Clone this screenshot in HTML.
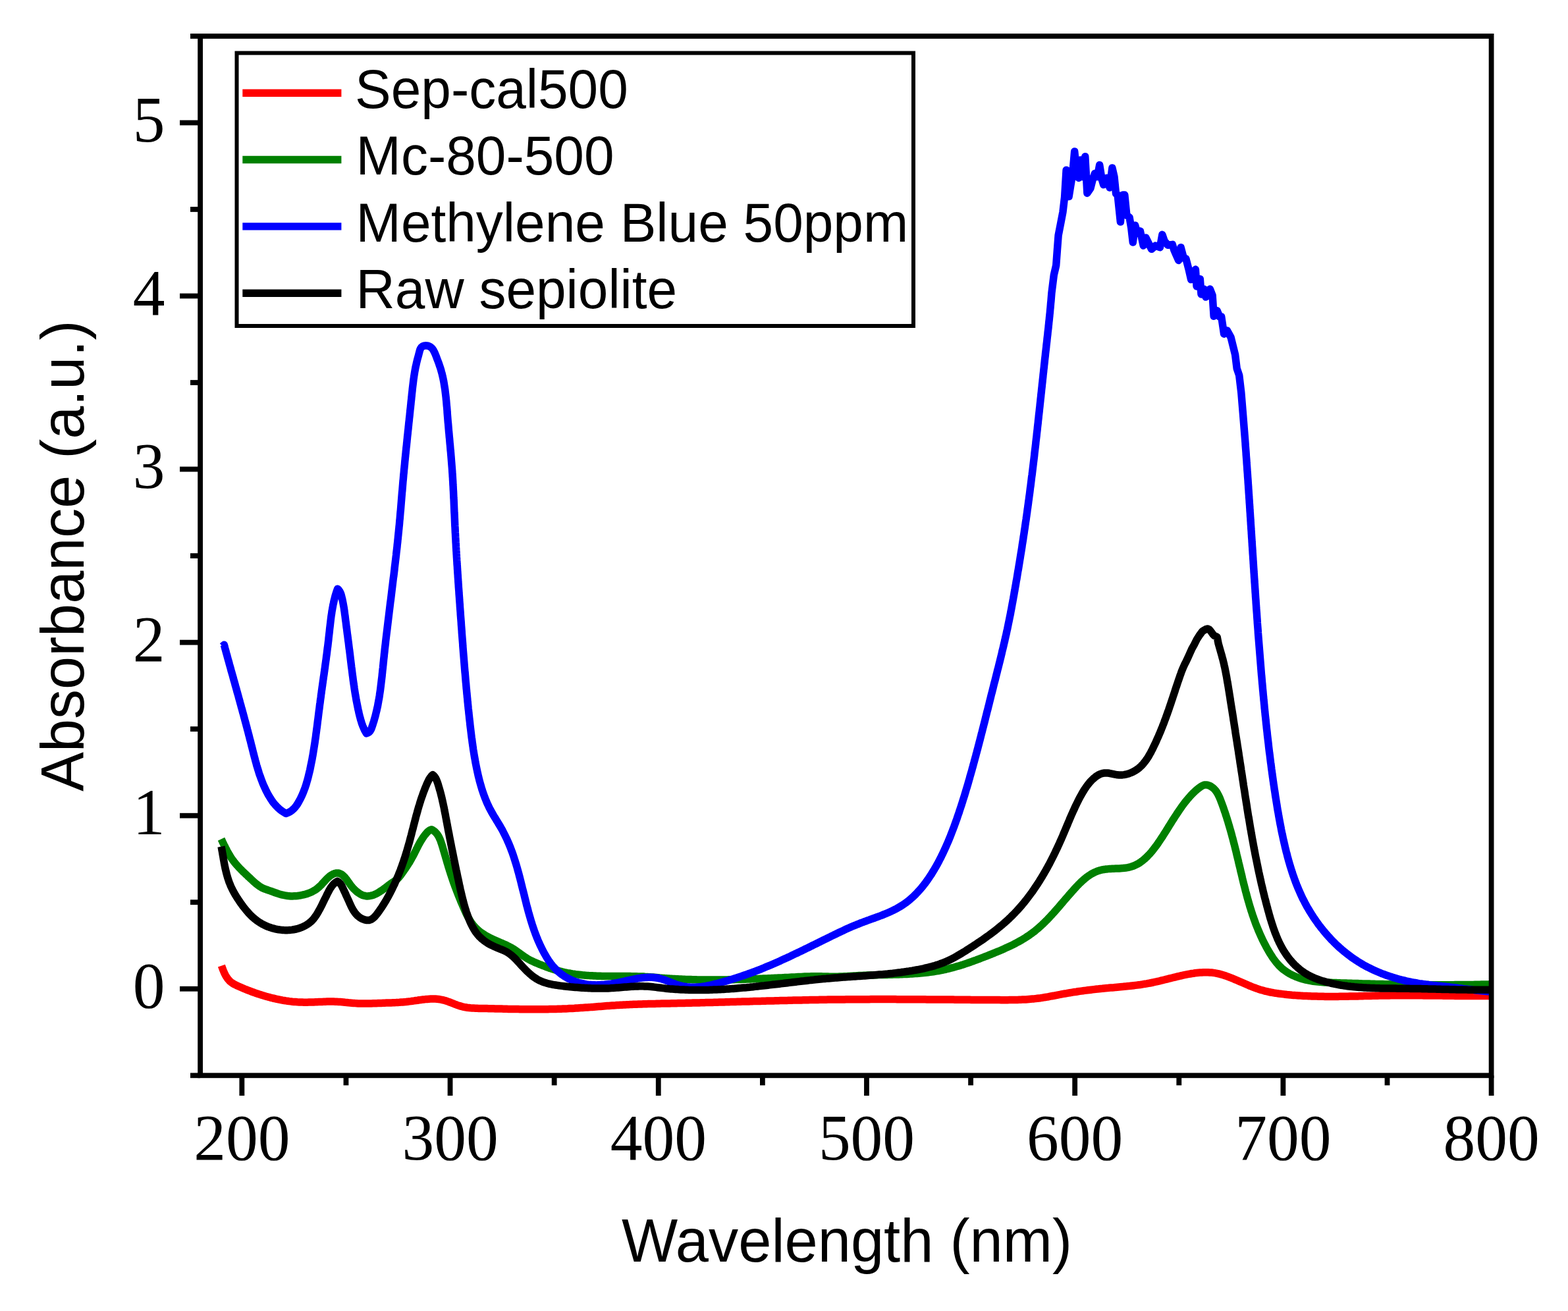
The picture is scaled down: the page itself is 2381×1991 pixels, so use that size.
<!DOCTYPE html>
<html lang="en"><head><meta charset="utf-8"><title>UV-Vis absorbance</title>
<style>
html,body{margin:0;padding:0;background:#fff;}
body{width:2381px;height:1991px;overflow:hidden;}
svg{display:block;}
.ser{font-family:"Liberation Serif",serif;font-size:97.5px;fill:#000;}
.san{font-family:"Liberation Sans",sans-serif;fill:#000;}
</style></head><body>
<svg width="2381" height="1991" viewBox="0 0 2381 1991">
<rect width="2381" height="1991" fill="#fff"/>

<g fill="none" stroke-width="11.5" stroke-linejoin="round" stroke-linecap="butt">
<path d="M336.4,1466.6 L337.2,1468.9 L338.0,1471.2 L338.9,1473.5 L339.9,1475.9 L341.0,1478.3 L342.1,1480.6 L343.4,1482.8 L344.8,1485.0 L346.3,1487.0 L347.9,1488.9 L349.6,1490.6 L351.5,1492.2 L353.6,1493.5 L355.7,1494.8 L358.0,1495.9 L360.2,1497.0 L362.5,1498.0 L364.8,1499.0 L367.1,1500.0 L369.4,1501.0 L371.7,1502.0 L374.0,1502.9 L376.3,1503.8 L378.7,1504.7 L381.0,1505.6 L383.4,1506.5 L385.7,1507.3 L388.1,1508.2 L390.5,1509.0 L392.8,1509.8 L395.2,1510.5 L397.6,1511.3 L400.0,1512.0 L402.4,1512.7 L404.8,1513.4 L407.2,1514.1 L409.7,1514.7 L412.1,1515.4 L414.5,1516.0 L417.0,1516.5 L419.4,1517.1 L421.8,1517.6 L424.3,1518.1 L426.8,1518.6 L429.2,1519.1 L431.7,1519.5 L434.1,1519.9 L436.6,1520.2 L439.1,1520.6 L441.6,1520.9 L444.0,1521.2 L446.5,1521.4 L449.0,1521.6 L451.5,1521.8 L454.0,1521.9 L456.5,1522.1 L459.0,1522.1 L461.5,1522.2 L464.0,1522.2 L466.5,1522.2 L469.0,1522.1 L471.5,1522.1 L474.0,1522.0 L476.5,1521.9 L479.1,1521.8 L481.6,1521.7 L484.1,1521.6 L486.6,1521.5 L489.1,1521.4 L491.6,1521.3 L494.1,1521.2 L496.6,1521.1 L499.1,1521.1 L501.6,1521.1 L504.1,1521.1 L506.6,1521.1 L509.1,1521.2 L511.6,1521.3 L514.1,1521.4 L516.6,1521.6 L519.1,1521.8 L521.6,1522.0 L524.0,1522.3 L526.5,1522.5 L529.0,1522.8 L531.5,1523.0 L534.0,1523.2 L536.5,1523.4 L538.9,1523.6 L541.4,1523.7 L543.9,1523.9 L546.4,1523.9 L548.9,1524.0 L551.5,1524.0 L554.0,1524.0 L556.5,1524.0 L559.0,1524.0 L561.5,1523.9 L564.0,1523.9 L566.5,1523.8 L569.0,1523.7 L571.5,1523.7 L574.1,1523.6 L576.6,1523.5 L579.1,1523.4 L581.6,1523.3 L584.1,1523.2 L586.6,1523.1 L589.1,1523.1 L591.5,1523.0 L594.0,1522.9 L596.5,1522.8 L599.0,1522.7 L601.5,1522.6 L604.0,1522.4 L606.5,1522.3 L609.0,1522.1 L611.4,1521.9 L613.9,1521.7 L616.4,1521.5 L618.9,1521.2 L621.4,1520.9 L623.9,1520.6 L626.4,1520.2 L628.9,1519.9 L631.4,1519.5 L633.9,1519.2 L636.4,1518.8 L638.9,1518.5 L641.4,1518.1 L643.9,1517.9 L646.3,1517.6 L648.8,1517.4 L651.3,1517.2 L653.8,1517.1 L656.2,1517.0 L658.7,1517.0 L661.2,1517.1 L663.6,1517.3 L666.1,1517.5 L668.5,1517.9 L670.9,1518.3 L673.3,1518.9 L675.7,1519.5 L678.1,1520.3 L680.5,1521.1 L682.9,1522.0 L685.3,1522.9 L687.7,1523.8 L690.0,1524.8 L692.4,1525.7 L694.8,1526.6 L697.2,1527.4 L699.7,1528.1 L702.1,1528.8 L704.5,1529.3 L707.0,1529.8 L709.5,1530.2 L711.9,1530.5 L714.4,1530.8 L716.9,1531.0 L719.4,1531.1 L721.9,1531.2 L724.4,1531.3 L726.9,1531.4 L729.4,1531.4 L731.9,1531.5 L734.4,1531.5 L736.9,1531.6 L739.4,1531.6 L741.9,1531.7 L744.4,1531.7 L746.9,1531.8 L749.4,1531.8 L751.9,1531.9 L754.4,1532.0 L756.9,1532.0 L759.4,1532.1 L761.9,1532.1 L764.4,1532.2 L766.9,1532.3 L769.5,1532.3 L772.0,1532.4 L774.5,1532.4 L777.0,1532.5 L779.5,1532.5 L782.0,1532.6 L784.5,1532.6 L787.0,1532.6 L789.5,1532.7 L792.0,1532.7 L794.5,1532.7 L797.0,1532.8 L799.5,1532.8 L802.0,1532.8 L804.5,1532.8 L807.0,1532.8 L809.5,1532.8 L812.0,1532.8 L814.5,1532.8 L817.0,1532.8 L819.5,1532.8 L822.0,1532.8 L824.5,1532.8 L827.0,1532.7 L829.5,1532.7 L832.0,1532.7 L834.5,1532.6 L837.0,1532.6 L839.5,1532.5 L842.0,1532.5 L844.5,1532.4 L847.1,1532.3 L849.6,1532.2 L852.1,1532.2 L854.6,1532.1 L857.1,1532.0 L859.6,1531.9 L862.1,1531.8 L864.6,1531.6 L867.1,1531.5 L869.6,1531.4 L872.1,1531.3 L874.6,1531.1 L877.1,1531.0 L879.6,1530.8 L882.1,1530.6 L884.5,1530.5 L887.0,1530.3 L889.5,1530.1 L892.0,1529.9 L894.5,1529.7 L897.0,1529.6 L899.5,1529.4 L902.0,1529.2 L904.5,1529.0 L907.0,1528.8 L909.5,1528.6 L912.0,1528.4 L914.5,1528.2 L917.0,1528.0 L919.5,1527.8 L922.0,1527.6 L924.5,1527.5 L927.0,1527.3 L929.5,1527.1 L932.0,1526.9 L934.5,1526.8 L937.0,1526.6 L939.5,1526.5 L941.9,1526.3 L944.4,1526.2 L946.9,1526.0 L949.4,1525.9 L951.9,1525.8 L954.4,1525.7 L956.9,1525.6 L959.4,1525.5 L961.9,1525.3 L964.4,1525.3 L966.9,1525.2 L969.4,1525.1 L971.9,1525.0 L974.4,1524.9 L976.9,1524.8 L979.4,1524.7 L981.9,1524.7 L984.4,1524.6 L986.9,1524.5 L989.4,1524.5 L991.9,1524.4 L994.5,1524.4 L997.0,1524.3 L999.5,1524.2 L1002.0,1524.2 L1004.5,1524.1 L1007.0,1524.1 L1009.5,1524.0 L1012.0,1524.0 L1014.5,1523.9 L1017.0,1523.9 L1019.5,1523.8 L1022.0,1523.8 L1024.5,1523.7 L1027.0,1523.7 L1029.5,1523.6 L1032.0,1523.6 L1034.5,1523.5 L1037.0,1523.5 L1039.5,1523.4 L1042.0,1523.3 L1044.5,1523.3 L1047.0,1523.2 L1049.5,1523.2 L1052.0,1523.1 L1054.5,1523.1 L1057.0,1523.0 L1059.5,1522.9 L1062.0,1522.9 L1064.5,1522.8 L1067.0,1522.7 L1069.5,1522.7 L1072.0,1522.6 L1074.5,1522.6 L1077.0,1522.5 L1079.5,1522.4 L1082.0,1522.4 L1084.5,1522.3 L1087.1,1522.2 L1089.6,1522.2 L1092.1,1522.1 L1094.6,1522.0 L1097.1,1522.0 L1099.6,1521.9 L1102.1,1521.8 L1104.6,1521.7 L1107.1,1521.7 L1109.6,1521.6 L1112.1,1521.5 L1114.6,1521.5 L1117.1,1521.4 L1119.6,1521.3 L1122.1,1521.3 L1124.6,1521.2 L1127.1,1521.1 L1129.6,1521.1 L1132.1,1521.0 L1134.6,1520.9 L1137.1,1520.9 L1139.6,1520.8 L1142.1,1520.7 L1144.6,1520.6 L1147.1,1520.6 L1149.6,1520.5 L1152.1,1520.4 L1154.6,1520.4 L1157.1,1520.3 L1159.6,1520.2 L1162.1,1520.2 L1164.6,1520.1 L1167.1,1520.0 L1169.6,1520.0 L1172.1,1519.9 L1174.6,1519.9 L1177.1,1519.8 L1179.7,1519.7 L1182.2,1519.7 L1184.7,1519.6 L1187.2,1519.5 L1189.7,1519.5 L1192.2,1519.4 L1194.7,1519.4 L1197.2,1519.3 L1199.7,1519.2 L1202.2,1519.2 L1204.7,1519.1 L1207.2,1519.1 L1209.7,1519.0 L1212.2,1519.0 L1214.7,1518.9 L1217.2,1518.9 L1219.7,1518.8 L1222.2,1518.8 L1224.7,1518.7 L1227.2,1518.7 L1229.7,1518.6 L1232.2,1518.6 L1234.7,1518.5 L1237.2,1518.5 L1239.7,1518.4 L1242.2,1518.4 L1244.7,1518.3 L1247.2,1518.3 L1249.7,1518.3 L1252.2,1518.2 L1254.7,1518.2 L1257.2,1518.1 L1259.7,1518.1 L1262.2,1518.1 L1264.7,1518.1 L1267.2,1518.0 L1269.7,1518.0 L1272.2,1518.0 L1274.7,1517.9 L1277.2,1517.9 L1279.8,1517.9 L1282.3,1517.9 L1284.8,1517.8 L1287.3,1517.8 L1289.8,1517.8 L1292.3,1517.8 L1294.8,1517.8 L1297.3,1517.8 L1299.8,1517.7 L1302.3,1517.7 L1304.8,1517.7 L1307.3,1517.7 L1309.8,1517.7 L1312.3,1517.7 L1314.8,1517.7 L1317.3,1517.7 L1319.8,1517.7 L1322.3,1517.6 L1324.8,1517.6 L1327.3,1517.6 L1329.8,1517.6 L1332.3,1517.6 L1334.8,1517.6 L1337.3,1517.6 L1339.8,1517.6 L1342.3,1517.6 L1344.8,1517.6 L1347.3,1517.6 L1349.8,1517.6 L1352.3,1517.6 L1354.8,1517.6 L1357.3,1517.6 L1359.8,1517.6 L1362.3,1517.7 L1364.8,1517.7 L1367.3,1517.7 L1369.8,1517.7 L1372.3,1517.7 L1374.9,1517.7 L1377.4,1517.7 L1379.9,1517.7 L1382.4,1517.7 L1384.9,1517.7 L1387.4,1517.8 L1389.9,1517.8 L1392.4,1517.8 L1394.9,1517.8 L1397.4,1517.8 L1399.9,1517.8 L1402.4,1517.8 L1404.9,1517.8 L1407.4,1517.9 L1409.9,1517.9 L1412.4,1517.9 L1414.9,1517.9 L1417.4,1517.9 L1419.9,1517.9 L1422.4,1518.0 L1424.9,1518.0 L1427.4,1518.0 L1429.9,1518.0 L1432.4,1518.0 L1434.9,1518.0 L1437.4,1518.1 L1439.9,1518.1 L1442.4,1518.1 L1444.9,1518.1 L1447.4,1518.1 L1449.9,1518.2 L1452.5,1518.2 L1455.0,1518.2 L1457.5,1518.2 L1460.0,1518.2 L1462.5,1518.3 L1465.0,1518.3 L1467.5,1518.3 L1470.0,1518.3 L1472.5,1518.3 L1475.0,1518.4 L1477.5,1518.4 L1480.0,1518.4 L1482.5,1518.4 L1485.0,1518.4 L1487.5,1518.4 L1490.0,1518.5 L1492.5,1518.5 L1495.0,1518.5 L1497.5,1518.5 L1500.0,1518.5 L1502.5,1518.6 L1505.0,1518.6 L1507.5,1518.6 L1510.0,1518.6 L1512.5,1518.6 L1515.1,1518.6 L1517.6,1518.6 L1520.1,1518.7 L1522.6,1518.7 L1525.1,1518.7 L1527.6,1518.7 L1530.1,1518.7 L1532.6,1518.6 L1535.1,1518.6 L1537.6,1518.6 L1540.1,1518.5 L1542.6,1518.5 L1545.1,1518.4 L1547.6,1518.3 L1550.1,1518.2 L1552.6,1518.1 L1555.1,1518.0 L1557.6,1517.9 L1560.1,1517.7 L1562.6,1517.5 L1565.0,1517.3 L1567.5,1517.1 L1570.0,1516.9 L1572.5,1516.6 L1575.0,1516.3 L1577.5,1516.0 L1580.0,1515.7 L1582.4,1515.3 L1584.9,1514.9 L1587.4,1514.5 L1589.9,1514.1 L1592.4,1513.7 L1594.8,1513.2 L1597.3,1512.7 L1599.8,1512.3 L1602.2,1511.8 L1604.7,1511.3 L1607.2,1510.8 L1609.6,1510.4 L1612.1,1509.9 L1614.6,1509.4 L1617.1,1509.0 L1619.5,1508.6 L1622.0,1508.1 L1624.5,1507.7 L1626.9,1507.3 L1629.4,1506.9 L1631.9,1506.5 L1634.3,1506.2 L1636.8,1505.8 L1639.3,1505.4 L1641.7,1505.1 L1644.2,1504.8 L1646.7,1504.4 L1649.2,1504.1 L1651.6,1503.8 L1654.1,1503.5 L1656.6,1503.2 L1659.1,1502.9 L1661.5,1502.6 L1664.0,1502.3 L1666.5,1502.1 L1669.0,1501.8 L1671.5,1501.5 L1674.0,1501.3 L1676.5,1501.0 L1679.0,1500.8 L1681.5,1500.6 L1683.9,1500.3 L1686.4,1500.1 L1688.9,1499.9 L1691.5,1499.7 L1694.0,1499.4 L1696.5,1499.2 L1699.0,1499.0 L1701.5,1498.8 L1704.0,1498.6 L1706.5,1498.3 L1709.0,1498.1 L1711.5,1497.8 L1714.0,1497.6 L1716.5,1497.3 L1719.0,1497.0 L1721.5,1496.7 L1724.0,1496.4 L1726.4,1496.1 L1728.9,1495.8 L1731.4,1495.5 L1733.9,1495.1 L1736.3,1494.7 L1738.8,1494.3 L1741.3,1493.9 L1743.7,1493.4 L1746.1,1493.0 L1748.6,1492.5 L1751.0,1492.0 L1753.4,1491.4 L1755.9,1490.9 L1758.3,1490.3 L1760.7,1489.8 L1763.1,1489.2 L1765.6,1488.6 L1768.0,1488.0 L1770.4,1487.4 L1772.8,1486.8 L1775.2,1486.2 L1777.7,1485.6 L1780.1,1485.0 L1782.5,1484.4 L1785.0,1483.8 L1787.4,1483.2 L1789.9,1482.6 L1792.4,1482.0 L1794.8,1481.5 L1797.3,1480.9 L1799.8,1480.4 L1802.3,1479.9 L1804.8,1479.4 L1807.2,1479.0 L1809.7,1478.5 L1812.2,1478.2 L1814.7,1477.8 L1817.2,1477.5 L1819.7,1477.2 L1822.2,1477.0 L1824.7,1476.9 L1827.2,1476.7 L1829.7,1476.7 L1832.1,1476.7 L1834.6,1476.7 L1837.1,1476.9 L1839.5,1477.1 L1842.0,1477.3 L1844.4,1477.7 L1846.8,1478.1 L1849.3,1478.6 L1851.7,1479.2 L1854.1,1479.8 L1856.5,1480.5 L1858.9,1481.2 L1861.3,1482.0 L1863.6,1482.9 L1866.0,1483.7 L1868.3,1484.7 L1870.7,1485.6 L1873.0,1486.6 L1875.4,1487.6 L1877.7,1488.6 L1880.0,1489.6 L1882.4,1490.6 L1884.7,1491.6 L1887.0,1492.6 L1889.3,1493.6 L1891.6,1494.6 L1893.9,1495.6 L1896.2,1496.6 L1898.6,1497.5 L1900.9,1498.5 L1903.2,1499.4 L1905.6,1500.2 L1907.9,1501.1 L1910.2,1501.9 L1912.6,1502.7 L1915.0,1503.4 L1917.4,1504.1 L1919.8,1504.8 L1922.2,1505.4 L1924.6,1505.9 L1927.0,1506.5 L1929.5,1507.0 L1931.9,1507.4 L1934.4,1507.9 L1936.9,1508.3 L1939.4,1508.6 L1941.8,1509.0 L1944.3,1509.3 L1946.8,1509.6 L1949.3,1509.9 L1951.8,1510.2 L1954.3,1510.5 L1956.8,1510.7 L1959.3,1510.9 L1961.8,1511.2 L1964.3,1511.4 L1966.8,1511.6 L1969.3,1511.7 L1971.8,1511.9 L1974.3,1512.1 L1976.8,1512.2 L1979.3,1512.4 L1981.8,1512.5 L1984.3,1512.6 L1986.8,1512.7 L1989.3,1512.8 L1991.8,1512.9 L1994.3,1513.0 L1996.8,1513.1 L1999.3,1513.1 L2001.8,1513.2 L2004.3,1513.3 L2006.8,1513.3 L2009.3,1513.3 L2011.8,1513.4 L2014.3,1513.4 L2016.8,1513.4 L2019.3,1513.4 L2021.8,1513.4 L2024.3,1513.4 L2026.8,1513.4 L2029.3,1513.4 L2031.8,1513.4 L2034.3,1513.3 L2036.8,1513.3 L2039.3,1513.3 L2041.8,1513.2 L2044.3,1513.2 L2046.8,1513.2 L2049.3,1513.1 L2051.8,1513.1 L2054.3,1513.0 L2056.8,1513.0 L2059.3,1512.9 L2061.8,1512.9 L2064.3,1512.8 L2066.8,1512.7 L2069.3,1512.7 L2071.8,1512.6 L2074.4,1512.6 L2076.9,1512.5 L2079.4,1512.4 L2081.9,1512.4 L2084.4,1512.3 L2086.9,1512.3 L2089.4,1512.2 L2091.9,1512.2 L2094.4,1512.1 L2096.9,1512.1 L2099.4,1512.0 L2101.9,1512.0 L2104.4,1511.9 L2106.9,1511.9 L2109.4,1511.9 L2111.9,1511.8 L2114.4,1511.8 L2116.9,1511.8 L2119.4,1511.8 L2121.9,1511.8 L2124.4,1511.7 L2126.9,1511.7 L2129.4,1511.7 L2131.9,1511.7 L2134.4,1511.7 L2136.9,1511.7 L2139.4,1511.7 L2142.0,1511.7 L2144.5,1511.7 L2147.0,1511.8 L2149.5,1511.8 L2152.0,1511.8 L2154.5,1511.8 L2157.0,1511.8 L2159.5,1511.8 L2162.0,1511.9 L2164.5,1511.9 L2167.0,1511.9 L2169.5,1511.9 L2172.0,1512.0 L2174.5,1512.0 L2177.0,1512.0 L2179.5,1512.0 L2182.0,1512.1 L2184.5,1512.1 L2187.0,1512.1 L2189.5,1512.1 L2192.0,1512.2 L2194.5,1512.2 L2197.0,1512.2 L2199.5,1512.3 L2202.0,1512.3 L2204.5,1512.3 L2207.0,1512.3 L2209.5,1512.4 L2212.0,1512.4 L2214.5,1512.4 L2217.0,1512.4 L2219.5,1512.4 L2222.0,1512.5 L2224.5,1512.5 L2227.0,1512.5 L2229.5,1512.5 L2232.0,1512.5 L2234.6,1512.5 L2237.1,1512.5 L2239.6,1512.5 L2242.1,1512.5 L2244.6,1512.5 L2247.1,1512.5 L2249.6,1512.5 L2252.1,1512.5 L2254.6,1512.5 L2257.1,1512.5 L2259.6,1512.5 L2262.1,1512.4 L2264.6,1512.4" stroke="#ff0000"/>
<path d="M336.0,1274.3 L337.1,1276.6 L338.1,1278.8 L339.2,1281.1 L340.3,1283.4 L341.5,1285.6 L342.6,1287.9 L343.8,1290.1 L344.9,1292.4 L346.2,1294.6 L347.4,1296.8 L348.7,1298.9 L350.0,1301.1 L351.4,1303.2 L352.8,1305.2 L354.3,1307.3 L355.8,1309.3 L357.4,1311.2 L359.0,1313.1 L360.7,1315.0 L362.4,1316.9 L364.1,1318.7 L365.9,1320.5 L367.6,1322.3 L369.4,1324.1 L371.3,1325.8 L373.1,1327.6 L375.0,1329.3 L376.8,1331.1 L378.7,1332.8 L380.5,1334.5 L382.4,1336.2 L384.2,1338.0 L386.1,1339.7 L388.0,1341.3 L389.9,1342.9 L391.9,1344.4 L393.9,1345.9 L396.0,1347.2 L398.2,1348.4 L400.5,1349.4 L402.9,1350.4 L405.3,1351.2 L407.7,1352.1 L410.1,1352.9 L412.5,1353.7 L414.9,1354.6 L417.3,1355.5 L419.6,1356.3 L422.0,1357.1 L424.4,1357.9 L426.8,1358.6 L429.2,1359.2 L431.7,1359.7 L434.1,1360.1 L436.6,1360.5 L439.1,1360.7 L441.6,1360.9 L444.2,1360.9 L446.7,1360.8 L449.3,1360.7 L451.8,1360.5 L454.3,1360.1 L456.8,1359.7 L459.3,1359.2 L461.8,1358.6 L464.2,1358.0 L466.6,1357.2 L468.9,1356.4 L471.2,1355.5 L473.5,1354.5 L475.7,1353.3 L477.8,1352.1 L479.9,1350.7 L481.9,1349.3 L483.8,1347.6 L485.7,1345.9 L487.6,1344.1 L489.3,1342.2 L491.1,1340.2 L492.9,1338.3 L494.6,1336.4 L496.4,1334.5 L498.3,1332.8 L500.2,1331.1 L502.1,1329.6 L504.2,1328.3 L506.4,1327.2 L508.6,1326.3 L511.0,1325.9 L513.3,1325.9 L515.6,1326.4 L517.8,1327.4 L519.9,1328.8 L521.8,1330.5 L523.7,1332.4 L525.4,1334.5 L527.0,1336.6 L528.6,1338.8 L530.0,1340.8 L531.4,1342.8 L532.8,1344.7 L534.2,1346.5 L535.8,1348.4 L537.5,1350.2 L539.5,1352.1 L541.5,1353.9 L543.7,1355.6 L545.9,1357.1 L548.2,1358.4 L550.5,1359.5 L552.9,1360.2 L555.3,1360.7 L557.6,1360.9 L560.0,1360.8 L562.3,1360.4 L564.6,1359.9 L567.0,1359.2 L569.3,1358.2 L571.6,1357.2 L573.8,1356.0 L576.0,1354.6 L578.2,1353.2 L580.4,1351.8 L582.5,1350.2 L584.6,1348.7 L586.7,1347.1 L588.7,1345.6 L590.6,1344.1 L592.6,1342.6 L594.5,1341.2 L596.6,1339.8 L598.6,1338.5 L600.7,1337.0 L602.7,1335.5 L604.5,1333.8 L606.2,1332.0 L607.8,1330.0 L609.3,1328.0 L610.8,1325.9 L612.2,1323.8 L613.7,1321.7 L615.1,1319.7 L616.5,1317.6 L617.9,1315.5 L619.3,1313.4 L620.6,1311.3 L622.0,1309.2 L623.2,1307.0 L624.5,1304.8 L625.7,1302.6 L626.9,1300.4 L628.1,1298.2 L629.3,1295.9 L630.4,1293.6 L631.6,1291.3 L632.7,1289.0 L633.9,1286.8 L635.0,1284.5 L636.2,1282.3 L637.4,1280.0 L638.7,1277.8 L640.0,1275.7 L641.3,1273.6 L642.7,1271.5 L644.1,1269.5 L645.7,1267.5 L647.3,1265.6 L648.9,1263.8 L650.7,1262.1 L652.7,1260.7 L655.1,1259.7 L657.4,1260.9 L659.4,1262.3 L661.2,1263.9 L662.8,1265.6 L664.3,1267.5 L665.6,1269.6 L666.8,1271.8 L667.8,1274.0 L668.8,1276.3 L669.6,1278.7 L670.5,1281.2 L671.2,1283.6 L672.0,1286.1 L672.7,1288.5 L673.4,1291.0 L674.2,1293.4 L674.9,1295.8 L675.6,1298.3 L676.3,1300.7 L677.0,1303.1 L677.7,1305.5 L678.4,1307.9 L679.1,1310.3 L679.8,1312.6 L680.5,1315.0 L681.2,1317.4 L682.0,1319.8 L682.7,1322.1 L683.5,1324.5 L684.2,1326.9 L685.0,1329.2 L685.8,1331.6 L686.6,1334.0 L687.4,1336.3 L688.2,1338.7 L689.0,1341.0 L689.9,1343.4 L690.7,1345.7 L691.6,1348.1 L692.5,1350.4 L693.4,1352.8 L694.3,1355.1 L695.2,1357.4 L696.1,1359.8 L697.1,1362.1 L698.0,1364.5 L699.0,1366.8 L699.9,1369.1 L700.9,1371.4 L701.9,1373.7 L702.9,1376.1 L703.9,1378.4 L704.9,1380.7 L705.9,1383.0 L707.0,1385.3 L708.0,1387.5 L709.1,1389.8 L710.3,1392.0 L711.5,1394.2 L712.7,1396.4 L714.0,1398.5 L715.3,1400.5 L716.8,1402.6 L718.2,1404.5 L719.8,1406.4 L721.5,1408.3 L723.2,1410.0 L725.0,1411.7 L726.9,1413.4 L728.9,1415.0 L730.9,1416.5 L733.0,1417.9 L735.1,1419.3 L737.3,1420.6 L739.5,1421.9 L741.8,1423.1 L744.1,1424.3 L746.3,1425.4 L748.6,1426.5 L750.9,1427.5 L753.2,1428.5 L755.5,1429.5 L757.8,1430.5 L760.1,1431.5 L762.4,1432.4 L764.6,1433.4 L766.9,1434.4 L769.1,1435.5 L771.3,1436.6 L773.5,1437.7 L775.7,1438.9 L777.9,1440.1 L780.0,1441.4 L782.1,1442.8 L784.1,1444.2 L786.2,1445.7 L788.3,1447.2 L790.3,1448.7 L792.4,1450.1 L794.4,1451.6 L796.5,1453.0 L798.6,1454.4 L800.7,1455.8 L802.9,1457.0 L805.1,1458.2 L807.3,1459.3 L809.6,1460.3 L811.8,1461.4 L814.1,1462.3 L816.4,1463.3 L818.7,1464.3 L821.1,1465.2 L823.4,1466.1 L825.7,1467.0 L828.1,1467.9 L830.4,1468.8 L832.8,1469.6 L835.2,1470.5 L837.6,1471.2 L840.0,1472.0 L842.3,1472.7 L844.8,1473.5 L847.2,1474.1 L849.6,1474.8 L852.0,1475.4 L854.4,1476.0 L856.9,1476.6 L859.3,1477.1 L861.8,1477.6 L864.2,1478.0 L866.7,1478.5 L869.2,1478.9 L871.6,1479.2 L874.1,1479.6 L876.6,1479.9 L879.1,1480.2 L881.6,1480.5 L884.1,1480.8 L886.6,1481.0 L889.0,1481.2 L891.5,1481.4 L894.0,1481.6 L896.5,1481.7 L899.1,1481.8 L901.6,1482.0 L904.1,1482.1 L906.6,1482.2 L909.1,1482.3 L911.6,1482.3 L914.1,1482.4 L916.6,1482.4 L919.1,1482.5 L921.6,1482.5 L924.1,1482.5 L926.6,1482.5 L929.1,1482.5 L931.7,1482.6 L934.2,1482.6 L936.7,1482.6 L939.2,1482.6 L941.7,1482.6 L944.2,1482.6 L946.7,1482.6 L949.2,1482.6 L951.7,1482.6 L954.2,1482.6 L956.7,1482.6 L959.2,1482.7 L961.7,1482.7 L964.2,1482.7 L966.7,1482.8 L969.2,1482.9 L971.7,1482.9 L974.2,1483.0 L976.7,1483.1 L979.2,1483.3 L981.7,1483.4 L984.2,1483.6 L986.7,1483.7 L989.2,1483.9 L991.7,1484.1 L994.2,1484.3 L996.7,1484.5 L999.2,1484.7 L1001.7,1485.0 L1004.2,1485.2 L1006.7,1485.4 L1009.2,1485.6 L1011.7,1485.7 L1014.2,1485.9 L1016.7,1486.1 L1019.2,1486.2 L1021.7,1486.4 L1024.2,1486.5 L1026.7,1486.7 L1029.2,1486.8 L1031.7,1486.9 L1034.2,1487.0 L1036.7,1487.2 L1039.2,1487.3 L1041.7,1487.4 L1044.2,1487.4 L1046.7,1487.5 L1049.2,1487.6 L1051.7,1487.7 L1054.2,1487.7 L1056.7,1487.8 L1059.2,1487.9 L1061.7,1487.9 L1064.2,1487.9 L1066.7,1488.0 L1069.2,1488.0 L1071.7,1488.0 L1074.2,1488.0 L1076.8,1488.1 L1079.3,1488.1 L1081.8,1488.1 L1084.3,1488.1 L1086.8,1488.1 L1089.3,1488.0 L1091.8,1488.0 L1094.3,1488.0 L1096.8,1488.0 L1099.3,1487.9 L1101.8,1487.9 L1104.3,1487.9 L1106.8,1487.8 L1109.3,1487.8 L1111.8,1487.7 L1114.3,1487.7 L1116.8,1487.6 L1119.3,1487.5 L1121.8,1487.5 L1124.4,1487.4 L1126.9,1487.3 L1129.4,1487.3 L1131.9,1487.2 L1134.4,1487.1 L1136.9,1487.0 L1139.4,1486.9 L1141.9,1486.8 L1144.4,1486.7 L1146.9,1486.6 L1149.4,1486.5 L1151.9,1486.4 L1154.4,1486.3 L1156.9,1486.2 L1159.4,1486.1 L1161.9,1486.0 L1164.4,1485.9 L1166.9,1485.8 L1169.4,1485.7 L1171.9,1485.6 L1174.4,1485.5 L1176.9,1485.3 L1179.4,1485.2 L1181.9,1485.1 L1184.4,1485.0 L1186.9,1484.9 L1189.4,1484.7 L1191.9,1484.6 L1194.4,1484.5 L1196.9,1484.4 L1199.4,1484.2 L1201.9,1484.1 L1204.4,1484.0 L1206.9,1483.9 L1209.4,1483.7 L1211.9,1483.6 L1214.4,1483.5 L1216.9,1483.4 L1219.4,1483.2 L1221.9,1483.1 L1224.4,1483.0 L1226.9,1482.9 L1229.4,1482.9 L1231.9,1482.8 L1234.4,1482.7 L1236.9,1482.7 L1239.4,1482.7 L1241.9,1482.7 L1244.5,1482.7 L1247.0,1482.8 L1249.5,1482.9 L1252.0,1483.0 L1254.5,1483.1 L1257.1,1483.1 L1259.6,1483.2 L1262.1,1483.3 L1264.6,1483.3 L1267.1,1483.3 L1269.6,1483.2 L1272.1,1483.2 L1274.6,1483.1 L1277.1,1483.0 L1279.6,1482.9 L1282.0,1482.8 L1284.5,1482.7 L1287.0,1482.6 L1289.5,1482.4 L1292.0,1482.3 L1294.4,1482.2 L1296.9,1482.0 L1299.4,1481.9 L1301.9,1481.7 L1304.4,1481.6 L1306.9,1481.5 L1309.4,1481.4 L1311.9,1481.3 L1314.4,1481.2 L1316.9,1481.1 L1319.4,1481.0 L1321.9,1480.9 L1324.4,1480.9 L1326.9,1480.8 L1329.4,1480.7 L1332.0,1480.7 L1334.5,1480.6 L1337.0,1480.6 L1339.5,1480.5 L1342.0,1480.5 L1344.5,1480.4 L1347.1,1480.4 L1349.6,1480.3 L1352.1,1480.2 L1354.6,1480.2 L1357.2,1480.1 L1359.7,1480.1 L1362.2,1480.0 L1364.7,1479.9 L1367.2,1479.8 L1369.7,1479.7 L1372.3,1479.6 L1374.8,1479.5 L1377.3,1479.4 L1379.8,1479.3 L1382.3,1479.1 L1384.8,1479.0 L1387.3,1478.8 L1389.8,1478.6 L1392.3,1478.4 L1394.8,1478.2 L1397.3,1478.0 L1399.8,1477.8 L1402.3,1477.5 L1404.8,1477.3 L1407.3,1477.0 L1409.7,1476.7 L1412.2,1476.4 L1414.7,1476.0 L1417.1,1475.7 L1419.6,1475.3 L1422.1,1474.9 L1424.5,1474.5 L1426.9,1474.0 L1429.4,1473.6 L1431.8,1473.1 L1434.3,1472.5 L1436.7,1472.0 L1439.1,1471.4 L1441.5,1470.8 L1443.9,1470.2 L1446.3,1469.6 L1448.7,1469.0 L1451.1,1468.3 L1453.5,1467.6 L1455.9,1466.9 L1458.3,1466.2 L1460.7,1465.4 L1463.1,1464.7 L1465.4,1463.9 L1467.8,1463.1 L1470.2,1462.3 L1472.5,1461.5 L1474.9,1460.6 L1477.3,1459.8 L1479.6,1458.9 L1482.0,1458.1 L1484.4,1457.2 L1486.7,1456.3 L1489.1,1455.4 L1491.4,1454.5 L1493.8,1453.6 L1496.1,1452.7 L1498.5,1451.8 L1500.8,1450.9 L1503.2,1449.9 L1505.6,1449.0 L1507.9,1448.0 L1510.3,1447.1 L1512.6,1446.1 L1514.9,1445.2 L1517.3,1444.2 L1519.6,1443.2 L1521.9,1442.2 L1524.2,1441.2 L1526.5,1440.1 L1528.8,1439.1 L1531.1,1438.0 L1533.4,1437.0 L1535.7,1435.9 L1537.9,1434.8 L1540.2,1433.6 L1542.4,1432.5 L1544.6,1431.3 L1546.8,1430.1 L1549.0,1428.9 L1551.1,1427.7 L1553.3,1426.4 L1555.4,1425.1 L1557.5,1423.8 L1559.6,1422.4 L1561.6,1421.1 L1563.7,1419.7 L1565.7,1418.2 L1567.7,1416.8 L1569.6,1415.3 L1571.6,1413.8 L1573.5,1412.2 L1575.4,1410.6 L1577.3,1409.0 L1579.1,1407.4 L1580.9,1405.7 L1582.8,1404.0 L1584.6,1402.3 L1586.3,1400.6 L1588.1,1398.8 L1589.9,1397.1 L1591.6,1395.3 L1593.3,1393.5 L1595.0,1391.6 L1596.7,1389.8 L1598.4,1387.9 L1600.1,1386.1 L1601.8,1384.2 L1603.4,1382.3 L1605.1,1380.4 L1606.8,1378.5 L1608.4,1376.6 L1610.1,1374.7 L1611.7,1372.7 L1613.4,1370.8 L1615.0,1368.9 L1616.7,1366.9 L1618.3,1365.0 L1620.0,1363.1 L1621.7,1361.1 L1623.3,1359.2 L1625.0,1357.3 L1626.7,1355.4 L1628.4,1353.5 L1630.1,1351.6 L1631.8,1349.7 L1633.5,1347.8 L1635.3,1345.9 L1637.0,1344.1 L1638.8,1342.3 L1640.6,1340.5 L1642.4,1338.8 L1644.2,1337.1 L1646.1,1335.5 L1648.0,1333.9 L1649.9,1332.3 L1651.9,1330.9 L1653.9,1329.5 L1655.9,1328.2 L1658.0,1326.9 L1660.1,1325.8 L1662.3,1324.7 L1664.5,1323.8 L1666.7,1322.9 L1669.0,1322.1 L1671.3,1321.5 L1673.7,1320.9 L1676.2,1320.5 L1678.7,1320.1 L1681.2,1319.9 L1683.7,1319.6 L1686.3,1319.5 L1688.9,1319.3 L1691.5,1319.2 L1694.1,1319.1 L1696.7,1319.0 L1699.3,1318.9 L1701.9,1318.7 L1704.4,1318.6 L1707.0,1318.3 L1709.5,1318.0 L1712.0,1317.6 L1714.4,1317.1 L1716.8,1316.5 L1719.1,1315.8 L1721.4,1315.0 L1723.7,1314.0 L1725.8,1312.9 L1728.0,1311.8 L1730.1,1310.5 L1732.1,1309.2 L1734.1,1307.7 L1736.0,1306.2 L1737.9,1304.6 L1739.8,1302.9 L1741.6,1301.2 L1743.4,1299.3 L1745.2,1297.5 L1746.9,1295.6 L1748.6,1293.6 L1750.2,1291.6 L1751.8,1289.6 L1753.4,1287.5 L1754.9,1285.5 L1756.5,1283.4 L1758.0,1281.3 L1759.4,1279.1 L1760.9,1277.0 L1762.3,1274.9 L1763.7,1272.8 L1765.1,1270.7 L1766.5,1268.5 L1767.8,1266.4 L1769.2,1264.3 L1770.5,1262.2 L1771.8,1260.1 L1773.1,1258.0 L1774.4,1255.9 L1775.7,1253.8 L1777.0,1251.7 L1778.3,1249.6 L1779.6,1247.5 L1780.9,1245.4 L1782.3,1243.4 L1783.6,1241.3 L1784.9,1239.2 L1786.3,1237.2 L1787.6,1235.1 L1789.0,1233.1 L1790.4,1231.0 L1791.8,1229.0 L1793.2,1227.0 L1794.6,1224.9 L1796.1,1222.9 L1797.6,1220.9 L1799.1,1218.9 L1800.7,1216.9 L1802.3,1215.0 L1803.9,1213.0 L1805.6,1211.1 L1807.3,1209.1 L1809.0,1207.3 L1810.8,1205.4 L1812.6,1203.6 L1814.5,1201.8 L1816.4,1200.1 L1818.4,1198.4 L1820.4,1196.8 L1822.4,1195.3 L1824.6,1193.9 L1826.8,1192.8 L1829.0,1192.1 L1831.4,1191.9 L1833.7,1192.2 L1836.0,1192.9 L1838.2,1194.0 L1840.3,1195.3 L1842.3,1196.8 L1844.0,1198.5 L1845.6,1200.3 L1847.1,1202.3 L1848.4,1204.4 L1849.6,1206.5 L1850.7,1208.8 L1851.8,1211.1 L1852.8,1213.4 L1853.7,1215.8 L1854.6,1218.2 L1855.5,1220.6 L1856.4,1223.0 L1857.3,1225.4 L1858.1,1227.8 L1858.9,1230.2 L1859.7,1232.6 L1860.6,1235.0 L1861.3,1237.4 L1862.1,1239.8 L1862.9,1242.2 L1863.6,1244.6 L1864.4,1247.0 L1865.1,1249.4 L1865.8,1251.8 L1866.5,1254.2 L1867.2,1256.6 L1867.9,1259.0 L1868.6,1261.4 L1869.3,1263.8 L1869.9,1266.2 L1870.6,1268.6 L1871.2,1271.0 L1871.9,1273.4 L1872.5,1275.8 L1873.1,1278.2 L1873.7,1280.6 L1874.4,1283.0 L1875.0,1285.5 L1875.6,1287.9 L1876.2,1290.3 L1876.8,1292.7 L1877.4,1295.1 L1877.9,1297.5 L1878.5,1300.0 L1879.1,1302.4 L1879.7,1304.8 L1880.3,1307.2 L1880.8,1309.7 L1881.4,1312.1 L1882.0,1314.5 L1882.6,1317.0 L1883.2,1319.4 L1883.7,1321.8 L1884.3,1324.3 L1884.9,1326.7 L1885.5,1329.2 L1886.1,1331.6 L1886.6,1334.0 L1887.2,1336.5 L1887.8,1338.9 L1888.4,1341.4 L1889.0,1343.8 L1889.7,1346.3 L1890.3,1348.7 L1890.9,1351.1 L1891.5,1353.6 L1892.2,1356.0 L1892.8,1358.4 L1893.5,1360.9 L1894.1,1363.3 L1894.8,1365.7 L1895.5,1368.1 L1896.2,1370.5 L1896.9,1373.0 L1897.6,1375.4 L1898.3,1377.8 L1899.1,1380.2 L1899.8,1382.6 L1900.6,1385.0 L1901.4,1387.3 L1902.1,1389.7 L1903.0,1392.1 L1903.8,1394.5 L1904.6,1396.8 L1905.5,1399.2 L1906.3,1401.5 L1907.2,1403.9 L1908.1,1406.2 L1909.0,1408.5 L1910.0,1410.8 L1910.9,1413.1 L1911.9,1415.4 L1912.9,1417.7 L1913.9,1420.0 L1914.9,1422.3 L1916.0,1424.6 L1917.0,1426.8 L1918.1,1429.1 L1919.2,1431.3 L1920.4,1433.5 L1921.6,1435.7 L1922.7,1437.9 L1923.9,1440.1 L1925.2,1442.3 L1926.4,1444.5 L1927.7,1446.6 L1929.0,1448.8 L1930.4,1450.9 L1931.7,1453.0 L1933.1,1455.1 L1934.6,1457.1 L1936.1,1459.1 L1937.6,1461.1 L1939.2,1463.0 L1940.9,1464.9 L1942.6,1466.8 L1944.4,1468.5 L1946.2,1470.2 L1948.1,1471.9 L1950.1,1473.4 L1952.2,1474.9 L1954.3,1476.4 L1956.4,1477.7 L1958.6,1479.0 L1960.9,1480.2 L1963.1,1481.3 L1965.4,1482.3 L1967.7,1483.3 L1970.1,1484.2 L1972.4,1485.1 L1974.8,1485.9 L1977.1,1486.6 L1979.5,1487.2 L1981.9,1487.8 L1984.3,1488.4 L1986.7,1488.9 L1989.2,1489.4 L1991.6,1489.8 L1994.1,1490.2 L1996.5,1490.5 L1999.0,1490.8 L2001.5,1491.1 L2004.0,1491.3 L2006.5,1491.5 L2009.0,1491.7 L2011.5,1491.9 L2014.0,1492.0 L2016.5,1492.1 L2019.0,1492.2 L2021.5,1492.3 L2024.0,1492.4 L2026.6,1492.5 L2029.1,1492.6 L2031.6,1492.7 L2034.1,1492.8 L2036.6,1492.9 L2039.2,1492.9 L2041.7,1493.0 L2044.2,1493.1 L2046.7,1493.2 L2049.2,1493.3 L2051.7,1493.3 L2054.2,1493.4 L2056.8,1493.5 L2059.3,1493.6 L2061.8,1493.6 L2064.3,1493.7 L2066.8,1493.8 L2069.3,1493.9 L2071.8,1493.9 L2074.3,1494.0 L2076.8,1494.1 L2079.3,1494.1 L2081.8,1494.2 L2084.4,1494.3 L2086.9,1494.3 L2089.4,1494.4 L2091.9,1494.4 L2094.4,1494.5 L2096.9,1494.6 L2099.4,1494.6 L2101.9,1494.7 L2104.4,1494.7 L2106.9,1494.8 L2109.4,1494.8 L2111.9,1494.9 L2114.4,1494.9 L2116.9,1495.0 L2119.4,1495.0 L2121.9,1495.1 L2124.4,1495.1 L2126.9,1495.2 L2129.4,1495.2 L2131.9,1495.2 L2134.4,1495.3 L2136.9,1495.3 L2139.4,1495.3 L2141.9,1495.4 L2144.4,1495.4 L2146.9,1495.4 L2149.4,1495.5 L2151.9,1495.5 L2154.4,1495.5 L2156.9,1495.5 L2159.4,1495.6 L2161.9,1495.6 L2164.4,1495.6 L2166.9,1495.6 L2169.4,1495.6 L2171.9,1495.7 L2174.4,1495.7 L2176.9,1495.7 L2179.4,1495.7 L2181.9,1495.7 L2184.4,1495.7 L2186.9,1495.7 L2189.4,1495.7 L2191.9,1495.7 L2194.4,1495.7 L2196.9,1495.7 L2199.4,1495.7 L2201.9,1495.7 L2204.4,1495.7 L2206.9,1495.7 L2209.4,1495.6 L2211.9,1495.6 L2214.4,1495.6 L2217.0,1495.6 L2219.5,1495.6 L2222.0,1495.5 L2224.5,1495.5 L2227.0,1495.5 L2229.5,1495.5 L2232.0,1495.4 L2234.5,1495.4 L2237.0,1495.4 L2239.5,1495.3 L2242.0,1495.3 L2244.5,1495.2 L2247.0,1495.2 L2249.5,1495.1 L2252.0,1495.1 L2254.6,1495.0 L2257.1,1495.0 L2259.6,1494.9 L2262.1,1494.9 L2264.6,1494.8" stroke="#008000"/>
<path d="M337.6,981.6 L340.3,979.3 L341.0,981.7 L341.6,984.2 L342.3,986.6 L343.0,989.1 L343.6,991.5 L344.3,993.9 L345.0,996.4 L345.6,998.8 L346.3,1001.3 L347.0,1003.7 L347.7,1006.1 L348.3,1008.5 L349.0,1011.0 L349.7,1013.4 L350.4,1015.8 L351.0,1018.3 L351.7,1020.7 L352.4,1023.1 L353.1,1025.5 L353.8,1028.0 L354.4,1030.4 L355.1,1032.8 L355.8,1035.2 L356.5,1037.7 L357.1,1040.1 L357.8,1042.5 L358.5,1044.9 L359.2,1047.4 L359.8,1049.8 L360.5,1052.2 L361.2,1054.6 L361.9,1057.0 L362.5,1059.5 L363.2,1061.9 L363.9,1064.3 L364.5,1066.7 L365.2,1069.2 L365.9,1071.6 L366.5,1074.0 L367.2,1076.4 L367.9,1078.9 L368.5,1081.3 L369.2,1083.7 L369.9,1086.2 L370.5,1088.6 L371.2,1091.0 L371.8,1093.5 L372.5,1095.9 L373.1,1098.3 L373.8,1100.8 L374.4,1103.2 L375.1,1105.6 L375.7,1108.1 L376.4,1110.5 L377.0,1113.0 L377.6,1115.4 L378.3,1117.9 L378.9,1120.3 L379.5,1122.8 L380.2,1125.2 L380.8,1127.7 L381.4,1130.1 L382.0,1132.6 L382.7,1135.1 L383.3,1137.5 L383.9,1140.0 L384.5,1142.4 L385.1,1144.9 L385.8,1147.4 L386.4,1149.8 L387.1,1152.3 L387.7,1154.7 L388.4,1157.2 L389.1,1159.6 L389.7,1162.1 L390.4,1164.5 L391.2,1166.9 L391.9,1169.3 L392.7,1171.8 L393.4,1174.2 L394.2,1176.6 L395.1,1178.9 L395.9,1181.3 L396.8,1183.7 L397.7,1186.0 L398.6,1188.4 L399.5,1190.7 L400.5,1193.0 L401.5,1195.3 L402.6,1197.6 L403.7,1199.9 L404.8,1202.1 L405.9,1204.3 L407.1,1206.6 L408.4,1208.7 L409.7,1210.9 L411.0,1213.0 L412.4,1215.1 L413.8,1217.2 L415.3,1219.2 L416.9,1221.1 L418.5,1223.0 L420.2,1224.8 L422.0,1226.6 L423.8,1228.2 L425.7,1229.9 L427.7,1231.4 L429.8,1232.8 L432.0,1234.2 L434.2,1235.4 L436.7,1234.6 L438.9,1233.6 L441.1,1232.3 L443.1,1230.9 L444.9,1229.3 L446.7,1227.6 L448.3,1225.7 L449.8,1223.8 L451.3,1221.7 L452.6,1219.5 L453.9,1217.3 L455.1,1215.1 L456.3,1212.8 L457.4,1210.5 L458.5,1208.2 L459.5,1205.9 L460.5,1203.5 L461.4,1201.2 L462.3,1198.8 L463.2,1196.4 L464.0,1194.0 L464.8,1191.6 L465.5,1189.2 L466.2,1186.7 L466.9,1184.3 L467.6,1181.8 L468.2,1179.4 L468.8,1176.9 L469.4,1174.4 L470.0,1172.0 L470.6,1169.5 L471.1,1167.0 L471.6,1164.5 L472.1,1162.0 L472.6,1159.6 L473.1,1157.1 L473.6,1154.6 L474.1,1152.1 L474.5,1149.6 L475.0,1147.1 L475.4,1144.6 L475.8,1142.1 L476.2,1139.6 L476.6,1137.1 L477.0,1134.6 L477.4,1132.1 L477.8,1129.6 L478.2,1127.1 L478.5,1124.6 L478.9,1122.1 L479.3,1119.6 L479.6,1117.1 L479.9,1114.5 L480.3,1112.0 L480.6,1109.5 L480.9,1107.0 L481.3,1104.5 L481.6,1102.0 L481.9,1099.5 L482.2,1097.0 L482.5,1094.4 L482.9,1091.9 L483.2,1089.4 L483.5,1086.9 L483.8,1084.4 L484.1,1081.9 L484.4,1079.4 L484.8,1076.9 L485.1,1074.3 L485.4,1071.8 L485.7,1069.3 L486.1,1066.8 L486.4,1064.3 L486.7,1061.8 L487.1,1059.3 L487.4,1056.8 L487.7,1054.3 L488.1,1051.8 L488.4,1049.2 L488.8,1046.7 L489.1,1044.2 L489.5,1041.7 L489.8,1039.2 L490.2,1036.7 L490.5,1034.2 L490.9,1031.7 L491.2,1029.2 L491.6,1026.7 L492.0,1024.2 L492.3,1021.7 L492.7,1019.1 L493.0,1016.6 L493.4,1014.1 L493.7,1011.6 L494.0,1009.1 L494.4,1006.6 L494.7,1004.1 L495.1,1001.6 L495.4,999.1 L495.7,996.5 L496.1,994.0 L496.4,991.5 L496.7,989.0 L497.0,986.5 L497.3,984.0 L497.7,981.5 L498.0,978.9 L498.3,976.4 L498.6,973.9 L498.9,971.4 L499.1,968.9 L499.4,966.3 L499.7,963.8 L500.0,961.3 L500.3,958.8 L500.5,956.2 L500.8,953.7 L501.1,951.2 L501.4,948.7 L501.7,946.1 L502.0,943.6 L502.3,941.1 L502.6,938.6 L502.9,936.1 L503.3,933.6 L503.7,931.1 L504.0,928.6 L504.5,926.1 L504.9,923.6 L505.4,921.1 L505.8,918.6 L506.4,916.2 L506.9,913.7 L507.5,911.2 L508.1,908.8 L508.7,906.4 L509.4,903.9 L510.1,901.5 L510.9,899.1 L511.7,896.7 L512.6,894.3 L514.4,896.0 L515.8,898.0 L516.9,900.1 L517.8,902.4 L518.5,904.8 L519.1,907.3 L519.7,909.7 L520.2,912.2 L520.7,914.6 L521.2,917.1 L521.6,919.6 L522.1,922.1 L522.5,924.7 L522.8,927.2 L523.2,929.7 L523.5,932.3 L523.9,934.8 L524.2,937.3 L524.5,939.9 L524.8,942.4 L525.2,944.9 L525.5,947.5 L525.8,950.0 L526.1,952.5 L526.5,955.0 L526.8,957.6 L527.1,960.1 L527.4,962.6 L527.8,965.1 L528.1,967.6 L528.4,970.1 L528.7,972.6 L529.1,975.1 L529.4,977.7 L529.7,980.2 L530.0,982.7 L530.3,985.2 L530.7,987.7 L531.0,990.2 L531.3,992.7 L531.6,995.2 L531.9,997.7 L532.2,1000.3 L532.5,1002.8 L532.8,1005.3 L533.1,1007.8 L533.4,1010.3 L533.7,1012.8 L534.1,1015.4 L534.4,1017.9 L534.7,1020.4 L535.0,1022.9 L535.3,1025.4 L535.7,1027.9 L536.0,1030.5 L536.3,1033.0 L536.7,1035.5 L537.0,1038.0 L537.4,1040.5 L537.8,1043.0 L538.1,1045.5 L538.5,1048.1 L538.9,1050.6 L539.3,1053.1 L539.7,1055.6 L540.2,1058.1 L540.6,1060.6 L541.0,1063.1 L541.5,1065.6 L542.0,1068.1 L542.5,1070.6 L543.0,1073.1 L543.5,1075.6 L544.0,1078.0 L544.6,1080.5 L545.1,1083.0 L545.7,1085.5 L546.3,1088.0 L547.0,1090.4 L547.6,1092.9 L548.4,1095.3 L549.1,1097.7 L549.9,1100.1 L550.8,1102.5 L551.8,1104.8 L552.8,1107.1 L553.9,1109.4 L555.1,1111.6 L556.4,1113.8 L558.9,1112.9 L560.8,1111.5 L562.3,1109.7 L563.5,1107.6 L564.4,1105.3 L565.3,1102.8 L566.1,1100.4 L566.8,1098.0 L567.6,1095.6 L568.3,1093.1 L569.0,1090.7 L569.7,1088.3 L570.3,1085.8 L570.9,1083.4 L571.5,1080.9 L572.1,1078.5 L572.6,1076.0 L573.2,1073.6 L573.7,1071.1 L574.1,1068.7 L574.6,1066.2 L575.0,1063.7 L575.5,1061.3 L575.9,1058.8 L576.3,1056.3 L576.6,1053.9 L577.0,1051.4 L577.4,1048.9 L577.7,1046.4 L578.0,1044.0 L578.3,1041.5 L578.6,1039.0 L578.9,1036.5 L579.2,1034.0 L579.5,1031.5 L579.8,1029.1 L580.1,1026.6 L580.3,1024.1 L580.6,1021.6 L580.8,1019.1 L581.1,1016.6 L581.4,1014.1 L581.6,1011.7 L581.9,1009.2 L582.1,1006.7 L582.4,1004.2 L582.6,1001.7 L582.9,999.2 L583.2,996.7 L583.4,994.2 L583.7,991.8 L584.0,989.3 L584.2,986.8 L584.5,984.3 L584.8,981.8 L585.1,979.3 L585.4,976.8 L585.6,974.4 L585.9,971.9 L586.2,969.4 L586.5,966.9 L586.8,964.4 L587.1,961.9 L587.4,959.4 L587.7,957.0 L588.0,954.5 L588.3,952.0 L588.6,949.5 L588.9,947.0 L589.2,944.5 L589.5,942.0 L589.8,939.6 L590.1,937.1 L590.4,934.6 L590.7,932.1 L591.0,929.6 L591.3,927.1 L591.6,924.7 L591.9,922.2 L592.2,919.7 L592.5,917.2 L592.8,914.7 L593.2,912.2 L593.5,909.7 L593.8,907.3 L594.1,904.8 L594.4,902.3 L594.7,899.8 L595.0,897.3 L595.3,894.8 L595.6,892.3 L595.9,889.9 L596.2,887.4 L596.5,884.9 L596.8,882.4 L597.1,879.9 L597.4,877.4 L597.8,875.0 L598.1,872.5 L598.4,870.0 L598.7,867.5 L599.0,865.0 L599.2,862.5 L599.5,860.0 L599.8,857.6 L600.1,855.1 L600.4,852.6 L600.7,850.1 L601.0,847.6 L601.3,845.1 L601.6,842.6 L601.8,840.2 L602.1,837.7 L602.4,835.2 L602.7,832.7 L603.0,830.2 L603.2,827.7 L603.5,825.2 L603.8,822.7 L604.0,820.3 L604.3,817.8 L604.5,815.3 L604.8,812.8 L605.0,810.3 L605.3,807.8 L605.5,805.3 L605.8,802.8 L606.0,800.3 L606.3,797.8 L606.5,795.4 L606.7,792.9 L606.9,790.4 L607.2,787.9 L607.4,785.4 L607.6,782.9 L607.8,780.4 L608.0,777.9 L608.3,775.4 L608.5,772.9 L608.7,770.4 L608.9,767.9 L609.1,765.4 L609.3,762.9 L609.5,760.5 L609.7,758.0 L609.9,755.5 L610.1,753.0 L610.3,750.5 L610.5,748.0 L610.8,745.5 L611.0,743.0 L611.2,740.5 L611.4,738.0 L611.6,735.5 L611.8,733.0 L612.0,730.5 L612.3,728.0 L612.5,725.5 L612.7,723.0 L612.9,720.6 L613.2,718.1 L613.4,715.6 L613.6,713.1 L613.9,710.6 L614.1,708.1 L614.4,705.6 L614.6,703.1 L614.8,700.6 L615.1,698.1 L615.3,695.6 L615.6,693.1 L615.8,690.6 L616.1,688.2 L616.3,685.7 L616.6,683.2 L616.8,680.7 L617.1,678.2 L617.4,675.7 L617.6,673.2 L617.9,670.7 L618.1,668.2 L618.4,665.7 L618.6,663.3 L618.9,660.8 L619.2,658.3 L619.4,655.8 L619.7,653.3 L620.0,650.8 L620.2,648.3 L620.5,645.8 L620.7,643.3 L621.0,640.8 L621.3,638.4 L621.5,635.9 L621.8,633.4 L622.1,630.9 L622.3,628.4 L622.6,625.9 L622.8,623.4 L623.1,620.9 L623.4,618.5 L623.6,616.0 L623.9,613.5 L624.1,611.0 L624.4,608.5 L624.7,606.0 L624.9,603.5 L625.2,601.0 L625.4,598.6 L625.7,596.1 L626.0,593.6 L626.2,591.1 L626.5,588.6 L626.8,586.1 L627.1,583.7 L627.4,581.2 L627.7,578.7 L628.0,576.2 L628.4,573.7 L628.7,571.3 L629.1,568.8 L629.5,566.3 L629.9,563.9 L630.4,561.4 L630.8,559.0 L631.3,556.5 L631.9,554.1 L632.4,551.6 L633.0,549.2 L633.6,546.7 L634.2,544.3 L634.9,541.9 L635.6,539.4 L636.2,536.9 L636.9,534.3 L637.6,531.7 L638.5,529.4 L639.8,527.5 L641.6,526.1 L643.6,525.2 L645.9,524.8 L648.3,524.9 L650.7,525.4 L652.9,526.4 L654.8,527.8 L656.5,529.5 L657.9,531.5 L659.1,533.7 L660.2,536.0 L661.2,538.4 L662.2,540.9 L663.1,543.3 L664.0,545.7 L664.9,548.0 L665.8,550.4 L666.6,552.7 L667.4,555.1 L668.2,557.4 L669.0,559.8 L669.7,562.2 L670.3,564.5 L671.0,566.9 L671.6,569.3 L672.1,571.7 L672.7,574.1 L673.2,576.6 L673.7,579.0 L674.1,581.4 L674.5,583.9 L674.9,586.4 L675.3,588.8 L675.7,591.3 L676.0,593.8 L676.3,596.2 L676.6,598.7 L676.9,601.2 L677.2,603.7 L677.4,606.2 L677.7,608.7 L677.9,611.2 L678.1,613.7 L678.3,616.2 L678.6,618.7 L678.8,621.3 L679.0,623.8 L679.1,626.3 L679.3,628.8 L679.5,631.3 L679.7,633.8 L679.9,636.3 L680.1,638.8 L680.3,641.3 L680.6,643.8 L680.8,646.3 L681.0,648.8 L681.2,651.3 L681.4,653.8 L681.6,656.3 L681.9,658.8 L682.1,661.3 L682.3,663.8 L682.6,666.3 L682.8,668.8 L683.0,671.3 L683.2,673.7 L683.5,676.2 L683.7,678.7 L683.9,681.2 L684.1,683.7 L684.4,686.2 L684.6,688.7 L684.8,691.2 L685.0,693.6 L685.2,696.1 L685.4,698.6 L685.6,701.1 L685.8,703.6 L686.0,706.1 L686.2,708.6 L686.4,711.1 L686.6,713.6 L686.7,716.0 L686.9,718.5 L687.1,721.0 L687.2,723.5 L687.4,726.0 L687.5,728.5 L687.7,731.0 L687.8,733.5 L687.9,736.0 L688.1,738.5 L688.2,741.0 L688.3,743.5 L688.5,746.0 L688.6,748.5 L688.7,751.0 L688.8,753.5 L688.9,756.0 L689.1,758.5 L689.2,761.0 L689.3,763.5 L689.4,766.0 L689.5,768.5 L689.6,771.0 L689.7,773.5 L689.8,776.0 L689.9,778.5 L690.1,781.1 L690.2,783.6 L690.3,786.1 L690.4,788.6 L690.5,791.1 L690.6,793.6 L690.7,796.1 L690.8,798.6 L691.0,801.1 L691.1,803.6 L691.2,806.1 L691.3,808.6 L691.5,811.1 L691.6,813.6 L691.7,816.1 L691.9,818.6 L692.0,821.1 L692.1,823.6 L692.3,826.1 L692.4,828.6 L692.5,831.1 L692.7,833.6 L692.8,836.1 L693.0,838.6 L693.1,841.1 L693.3,843.6 L693.4,846.1 L693.6,848.6 L693.7,851.1 L693.9,853.6 L694.0,856.0 L694.2,858.5 L694.4,861.0 L694.5,863.5 L694.7,866.0 L694.8,868.5 L695.0,871.0 L695.2,873.5 L695.3,876.0 L695.5,878.5 L695.7,881.0 L695.8,883.5 L696.0,886.0 L696.2,888.5 L696.3,891.0 L696.5,893.5 L696.7,896.0 L696.9,898.5 L697.0,901.0 L697.2,903.5 L697.4,906.0 L697.6,908.5 L697.7,910.9 L697.9,913.4 L698.1,915.9 L698.3,918.4 L698.4,920.9 L698.6,923.4 L698.8,925.9 L699.0,928.4 L699.2,930.9 L699.3,933.4 L699.5,935.9 L699.7,938.4 L699.9,940.9 L700.1,943.4 L700.3,945.9 L700.4,948.4 L700.6,950.9 L700.8,953.4 L701.0,955.9 L701.2,958.4 L701.3,960.9 L701.5,963.4 L701.7,965.9 L701.9,968.4 L702.1,970.9 L702.3,973.4 L702.5,975.9 L702.7,978.4 L702.8,980.9 L703.0,983.4 L703.2,985.9 L703.4,988.4 L703.6,990.9 L703.8,993.4 L704.0,995.8 L704.2,998.3 L704.4,1000.8 L704.6,1003.3 L704.8,1005.8 L705.0,1008.3 L705.2,1010.8 L705.4,1013.3 L705.6,1015.8 L705.8,1018.3 L706.0,1020.8 L706.3,1023.3 L706.5,1025.8 L706.7,1028.3 L706.9,1030.8 L707.1,1033.3 L707.3,1035.8 L707.6,1038.3 L707.8,1040.8 L708.0,1043.3 L708.2,1045.8 L708.5,1048.2 L708.7,1050.7 L708.9,1053.2 L709.2,1055.7 L709.4,1058.2 L709.7,1060.7 L709.9,1063.2 L710.1,1065.7 L710.4,1068.2 L710.6,1070.7 L710.9,1073.2 L711.1,1075.6 L711.4,1078.1 L711.7,1080.6 L711.9,1083.1 L712.2,1085.6 L712.5,1088.1 L712.7,1090.6 L713.0,1093.0 L713.3,1095.5 L713.6,1098.0 L713.8,1100.5 L714.1,1103.0 L714.4,1105.5 L714.7,1107.9 L715.0,1110.4 L715.3,1112.9 L715.6,1115.4 L715.9,1117.9 L716.2,1120.3 L716.6,1122.8 L716.9,1125.3 L717.2,1127.8 L717.6,1130.2 L717.9,1132.7 L718.3,1135.2 L718.6,1137.7 L719.0,1140.1 L719.4,1142.6 L719.8,1145.1 L720.2,1147.5 L720.6,1150.0 L721.1,1152.5 L721.5,1154.9 L721.9,1157.4 L722.4,1159.9 L722.9,1162.3 L723.4,1164.8 L723.9,1167.3 L724.4,1169.7 L724.9,1172.2 L725.5,1174.6 L726.0,1177.1 L726.6,1179.5 L727.2,1182.0 L727.8,1184.4 L728.4,1186.8 L729.1,1189.3 L729.8,1191.7 L730.5,1194.1 L731.2,1196.5 L731.9,1198.9 L732.7,1201.3 L733.5,1203.6 L734.3,1206.0 L735.2,1208.4 L736.0,1210.7 L736.9,1213.0 L737.9,1215.3 L738.8,1217.6 L739.8,1219.9 L740.9,1222.2 L741.9,1224.4 L743.0,1226.7 L744.2,1228.9 L745.3,1231.1 L746.5,1233.3 L747.8,1235.5 L749.0,1237.6 L750.3,1239.8 L751.6,1241.9 L752.9,1244.0 L754.2,1246.2 L755.5,1248.3 L756.8,1250.5 L758.1,1252.6 L759.4,1254.8 L760.6,1256.9 L761.9,1259.1 L763.1,1261.3 L764.2,1263.5 L765.4,1265.8 L766.5,1268.0 L767.6,1270.3 L768.7,1272.5 L769.8,1274.8 L770.8,1277.1 L771.8,1279.3 L772.8,1281.6 L773.7,1283.9 L774.7,1286.3 L775.6,1288.6 L776.4,1290.9 L777.3,1293.2 L778.2,1295.6 L779.0,1297.9 L779.8,1300.3 L780.6,1302.7 L781.3,1305.0 L782.1,1307.4 L782.8,1309.8 L783.6,1312.2 L784.3,1314.6 L785.0,1317.0 L785.7,1319.4 L786.3,1321.8 L787.0,1324.2 L787.7,1326.6 L788.3,1329.0 L788.9,1331.4 L789.6,1333.9 L790.2,1336.3 L790.8,1338.7 L791.4,1341.1 L792.0,1343.6 L792.6,1346.0 L793.2,1348.5 L793.8,1350.9 L794.5,1353.3 L795.1,1355.8 L795.7,1358.2 L796.3,1360.7 L796.9,1363.1 L797.5,1365.5 L798.1,1368.0 L798.7,1370.4 L799.3,1372.8 L799.9,1375.3 L800.6,1377.7 L801.2,1380.1 L801.9,1382.6 L802.5,1385.0 L803.2,1387.4 L803.9,1389.8 L804.6,1392.3 L805.3,1394.7 L806.0,1397.1 L806.7,1399.5 L807.5,1401.9 L808.2,1404.2 L809.0,1406.6 L809.8,1409.0 L810.6,1411.4 L811.4,1413.7 L812.3,1416.1 L813.1,1418.4 L814.0,1420.7 L814.9,1423.1 L815.9,1425.4 L816.8,1427.7 L817.8,1430.0 L818.8,1432.2 L819.8,1434.5 L820.9,1436.8 L822.0,1439.0 L823.1,1441.3 L824.2,1443.5 L825.4,1445.7 L826.6,1447.9 L827.8,1450.1 L829.0,1452.2 L830.3,1454.4 L831.7,1456.5 L833.0,1458.6 L834.5,1460.6 L835.9,1462.6 L837.4,1464.6 L839.0,1466.6 L840.6,1468.5 L842.3,1470.3 L844.0,1472.1 L845.8,1473.9 L847.7,1475.6 L849.6,1477.2 L851.6,1478.8 L853.6,1480.3 L855.7,1481.7 L857.8,1483.1 L860.0,1484.4 L862.2,1485.7 L864.5,1486.8 L866.8,1487.9 L869.1,1489.0 L871.4,1489.9 L873.8,1490.8 L876.1,1491.6 L878.5,1492.3 L880.9,1493.0 L883.3,1493.5 L885.7,1494.0 L888.2,1494.5 L890.6,1494.9 L893.1,1495.2 L895.5,1495.4 L898.0,1495.6 L900.5,1495.7 L903.0,1495.8 L905.5,1495.9 L908.0,1495.8 L910.5,1495.8 L913.0,1495.6 L915.5,1495.5 L918.0,1495.3 L920.5,1495.0 L923.0,1494.7 L925.5,1494.4 L928.0,1494.1 L930.5,1493.7 L933.0,1493.3 L935.4,1492.8 L937.9,1492.4 L940.4,1491.9 L942.9,1491.4 L945.3,1490.8 L947.8,1490.3 L950.2,1489.7 L952.7,1489.2 L955.1,1488.7 L957.6,1488.1 L960.0,1487.6 L962.5,1487.1 L964.9,1486.6 L967.4,1486.2 L969.8,1485.7 L972.3,1485.4 L974.7,1485.0 L977.2,1484.8 L979.7,1484.5 L982.2,1484.4 L984.7,1484.3 L987.2,1484.3 L989.7,1484.3 L992.2,1484.5 L994.7,1484.7 L997.2,1485.0 L999.6,1485.5 L1002.1,1486.0 L1004.5,1486.7 L1006.9,1487.4 L1009.2,1488.2 L1011.6,1489.1 L1013.9,1490.0 L1016.2,1490.9 L1018.6,1491.9 L1020.9,1492.8 L1023.3,1493.7 L1025.6,1494.6 L1028.0,1495.4 L1030.4,1496.2 L1032.8,1496.8 L1035.3,1497.4 L1037.7,1497.9 L1040.2,1498.3 L1042.7,1498.7 L1045.2,1498.9 L1047.7,1499.1 L1050.2,1499.2 L1052.7,1499.2 L1055.2,1499.2 L1057.7,1499.1 L1060.2,1499.0 L1062.7,1498.7 L1065.2,1498.5 L1067.6,1498.1 L1070.1,1497.8 L1072.6,1497.4 L1075.0,1496.9 L1077.5,1496.4 L1079.9,1495.9 L1082.4,1495.3 L1084.8,1494.7 L1087.2,1494.1 L1089.7,1493.5 L1092.1,1492.8 L1094.5,1492.2 L1096.9,1491.5 L1099.3,1490.8 L1101.8,1490.1 L1104.2,1489.4 L1106.6,1488.7 L1109.0,1487.9 L1111.4,1487.2 L1113.8,1486.5 L1116.2,1485.7 L1118.5,1485.0 L1120.9,1484.2 L1123.3,1483.4 L1125.7,1482.6 L1128.1,1481.8 L1130.4,1481.0 L1132.8,1480.2 L1135.1,1479.4 L1137.5,1478.5 L1139.8,1477.7 L1142.2,1476.8 L1144.5,1476.0 L1146.9,1475.1 L1149.2,1474.2 L1151.5,1473.3 L1153.9,1472.4 L1156.2,1471.4 L1158.5,1470.5 L1160.8,1469.6 L1163.1,1468.6 L1165.4,1467.6 L1167.7,1466.7 L1170.0,1465.7 L1172.3,1464.7 L1174.6,1463.7 L1176.9,1462.7 L1179.2,1461.7 L1181.5,1460.7 L1183.8,1459.7 L1186.1,1458.6 L1188.4,1457.6 L1190.6,1456.6 L1192.9,1455.5 L1195.2,1454.5 L1197.4,1453.4 L1199.7,1452.4 L1202.0,1451.3 L1204.2,1450.2 L1206.5,1449.1 L1208.8,1448.1 L1211.0,1447.0 L1213.3,1445.9 L1215.5,1444.8 L1217.8,1443.7 L1220.1,1442.6 L1222.3,1441.5 L1224.6,1440.4 L1226.8,1439.3 L1229.1,1438.2 L1231.3,1437.1 L1233.5,1436.0 L1235.8,1434.9 L1238.0,1433.8 L1240.3,1432.7 L1242.5,1431.6 L1244.8,1430.5 L1247.0,1429.4 L1249.3,1428.3 L1251.5,1427.2 L1253.7,1426.1 L1256.0,1425.0 L1258.2,1423.9 L1260.4,1422.8 L1262.6,1421.7 L1264.9,1420.6 L1267.1,1419.5 L1269.3,1418.5 L1271.5,1417.4 L1273.8,1416.3 L1276.0,1415.3 L1278.2,1414.2 L1280.5,1413.2 L1282.7,1412.1 L1284.9,1411.1 L1287.2,1410.1 L1289.5,1409.1 L1291.7,1408.1 L1294.0,1407.1 L1296.3,1406.1 L1298.6,1405.2 L1300.9,1404.2 L1303.2,1403.3 L1305.5,1402.4 L1307.9,1401.4 L1310.2,1400.6 L1312.6,1399.7 L1315.0,1398.8 L1317.3,1397.9 L1319.7,1397.1 L1322.1,1396.2 L1324.5,1395.3 L1326.9,1394.5 L1329.3,1393.6 L1331.7,1392.7 L1334.1,1391.9 L1336.4,1391.0 L1338.8,1390.1 L1341.2,1389.1 L1343.5,1388.2 L1345.8,1387.2 L1348.2,1386.2 L1350.5,1385.2 L1352.7,1384.2 L1355.0,1383.1 L1357.3,1382.0 L1359.5,1380.9 L1361.7,1379.8 L1363.8,1378.6 L1366.0,1377.3 L1368.1,1376.0 L1370.2,1374.7 L1372.3,1373.3 L1374.3,1371.9 L1376.3,1370.5 L1378.2,1369.0 L1380.2,1367.4 L1382.1,1365.8 L1383.9,1364.2 L1385.8,1362.6 L1387.6,1360.9 L1389.4,1359.1 L1391.1,1357.4 L1392.8,1355.6 L1394.5,1353.7 L1396.2,1351.9 L1397.9,1350.0 L1399.5,1348.1 L1401.1,1346.1 L1402.6,1344.2 L1404.2,1342.2 L1405.7,1340.2 L1407.2,1338.1 L1408.6,1336.1 L1410.1,1334.0 L1411.5,1331.9 L1412.9,1329.8 L1414.3,1327.7 L1415.6,1325.5 L1416.9,1323.4 L1418.3,1321.2 L1419.5,1319.0 L1420.8,1316.9 L1422.0,1314.7 L1423.3,1312.5 L1424.5,1310.3 L1425.7,1308.0 L1426.8,1305.8 L1428.0,1303.6 L1429.1,1301.4 L1430.2,1299.1 L1431.3,1296.9 L1432.4,1294.6 L1433.4,1292.4 L1434.5,1290.1 L1435.5,1287.8 L1436.5,1285.6 L1437.5,1283.3 L1438.5,1281.0 L1439.5,1278.7 L1440.5,1276.4 L1441.4,1274.1 L1442.4,1271.8 L1443.3,1269.5 L1444.2,1267.2 L1445.1,1264.8 L1446.0,1262.5 L1446.9,1260.2 L1447.8,1257.8 L1448.7,1255.5 L1449.5,1253.2 L1450.4,1250.8 L1451.2,1248.5 L1452.1,1246.1 L1452.9,1243.8 L1453.7,1241.4 L1454.5,1239.0 L1455.3,1236.7 L1456.2,1234.3 L1456.9,1231.9 L1457.7,1229.5 L1458.5,1227.2 L1459.3,1224.8 L1460.1,1222.4 L1460.8,1220.0 L1461.6,1217.6 L1462.3,1215.2 L1463.1,1212.8 L1463.8,1210.5 L1464.6,1208.1 L1465.3,1205.7 L1466.0,1203.3 L1466.7,1200.9 L1467.4,1198.5 L1468.2,1196.1 L1468.9,1193.7 L1469.6,1191.3 L1470.3,1188.9 L1471.0,1186.4 L1471.7,1184.0 L1472.4,1181.6 L1473.0,1179.2 L1473.7,1176.8 L1474.4,1174.4 L1475.1,1172.0 L1475.8,1169.6 L1476.4,1167.2 L1477.1,1164.8 L1477.8,1162.3 L1478.4,1159.9 L1479.1,1157.5 L1479.7,1155.1 L1480.4,1152.7 L1481.0,1150.3 L1481.7,1147.9 L1482.3,1145.4 L1483.0,1143.0 L1483.6,1140.6 L1484.3,1138.2 L1484.9,1135.8 L1485.5,1133.3 L1486.2,1130.9 L1486.8,1128.5 L1487.4,1126.1 L1488.1,1123.7 L1488.7,1121.2 L1489.3,1118.8 L1489.9,1116.4 L1490.5,1114.0 L1491.2,1111.5 L1491.8,1109.1 L1492.4,1106.7 L1493.0,1104.3 L1493.6,1101.8 L1494.3,1099.4 L1494.9,1097.0 L1495.5,1094.6 L1496.1,1092.1 L1496.7,1089.7 L1497.3,1087.3 L1497.9,1084.8 L1498.5,1082.4 L1499.1,1080.0 L1499.8,1077.6 L1500.4,1075.1 L1501.0,1072.7 L1501.6,1070.3 L1502.2,1067.9 L1502.8,1065.4 L1503.4,1063.0 L1504.0,1060.6 L1504.6,1058.1 L1505.2,1055.7 L1505.8,1053.3 L1506.5,1050.9 L1507.1,1048.4 L1507.7,1046.0 L1508.3,1043.6 L1508.9,1041.2 L1509.5,1038.7 L1510.1,1036.3 L1510.8,1033.9 L1511.4,1031.5 L1512.0,1029.0 L1512.6,1026.6 L1513.2,1024.2 L1513.8,1021.8 L1514.4,1019.3 L1515.0,1016.9 L1515.7,1014.5 L1516.3,1012.0 L1516.9,1009.6 L1517.5,1007.2 L1518.1,1004.8 L1518.7,1002.3 L1519.3,999.9 L1519.9,997.5 L1520.5,995.0 L1521.1,992.6 L1521.6,990.2 L1522.2,987.7 L1522.8,985.3 L1523.4,982.9 L1524.0,980.4 L1524.5,978.0 L1525.1,975.6 L1525.7,973.1 L1526.2,970.7 L1526.8,968.2 L1527.3,965.8 L1527.9,963.4 L1528.4,960.9 L1528.9,958.5 L1529.5,956.0 L1530.0,953.6 L1530.5,951.1 L1531.0,948.7 L1531.5,946.2 L1532.0,943.8 L1532.5,941.3 L1533.0,938.9 L1533.5,936.4 L1534.0,934.0 L1534.5,931.5 L1534.9,929.0 L1535.4,926.6 L1535.9,924.1 L1536.3,921.7 L1536.8,919.2 L1537.2,916.7 L1537.7,914.3 L1538.1,911.8 L1538.6,909.3 L1539.0,906.9 L1539.5,904.4 L1539.9,902.0 L1540.3,899.5 L1540.8,897.0 L1541.2,894.6 L1541.6,892.1 L1542.1,889.6 L1542.5,887.2 L1542.9,884.7 L1543.3,882.2 L1543.8,879.8 L1544.2,877.3 L1544.6,874.8 L1545.0,872.4 L1545.4,869.9 L1545.8,867.4 L1546.3,865.0 L1546.7,862.5 L1547.1,860.0 L1547.5,857.5 L1547.9,855.1 L1548.3,852.6 L1548.7,850.1 L1549.1,847.7 L1549.5,845.2 L1549.9,842.7 L1550.3,840.3 L1550.7,837.8 L1551.1,835.3 L1551.5,832.9 L1551.9,830.4 L1552.2,827.9 L1552.6,825.4 L1553.0,823.0 L1553.4,820.5 L1553.8,818.0 L1554.1,815.5 L1554.5,813.1 L1554.9,810.6 L1555.3,808.1 L1555.6,805.6 L1556.0,803.2 L1556.4,800.7 L1556.7,798.2 L1557.1,795.7 L1557.4,793.3 L1557.8,790.8 L1558.2,788.3 L1558.5,785.8 L1558.9,783.4 L1559.2,780.9 L1559.6,778.4 L1559.9,775.9 L1560.2,773.4 L1560.6,771.0 L1560.9,768.5 L1561.3,766.0 L1561.6,763.5 L1561.9,761.0 L1562.3,758.6 L1562.6,756.1 L1562.9,753.6 L1563.3,751.1 L1563.6,748.6 L1563.9,746.2 L1564.2,743.7 L1564.5,741.2 L1564.9,738.7 L1565.2,736.2 L1565.5,733.7 L1565.8,731.3 L1566.1,728.8 L1566.4,726.3 L1566.7,723.8 L1567.1,721.3 L1567.4,718.8 L1567.7,716.4 L1568.0,713.9 L1568.3,711.4 L1568.6,708.9 L1568.9,706.4 L1569.2,703.9 L1569.5,701.4 L1569.8,699.0 L1570.1,696.5 L1570.4,694.0 L1570.7,691.5 L1570.9,689.0 L1571.2,686.5 L1571.5,684.0 L1571.8,681.6 L1572.1,679.1 L1572.4,676.6 L1572.7,674.1 L1572.9,671.6 L1573.2,669.1 L1573.5,666.6 L1573.8,664.1 L1574.1,661.7 L1574.3,659.2 L1574.6,656.7 L1574.9,654.2 L1575.2,651.7 L1575.4,649.2 L1575.7,646.7 L1576.0,644.2 L1576.3,641.8 L1576.5,639.3 L1576.8,636.8 L1577.1,634.3 L1577.3,631.8 L1577.6,629.3 L1577.9,626.8 L1578.2,624.3 L1578.4,621.9 L1578.7,619.4 L1579.0,616.9 L1579.2,614.4 L1579.5,611.9 L1579.8,609.4 L1580.0,606.9 L1580.3,604.4 L1580.6,602.0 L1580.8,599.5 L1581.1,597.0 L1581.4,594.5 L1581.6,592.0 L1581.9,589.5 L1582.2,587.0 L1582.4,584.5 L1582.7,582.0 L1583.0,579.6 L1583.2,577.1 L1583.5,574.6 L1583.8,572.1 L1584.0,569.6 L1584.3,567.1 L1584.6,564.6 L1584.8,562.1 L1585.1,559.7 L1585.4,557.2 L1585.6,554.7 L1585.9,552.2 L1586.2,549.7 L1586.4,547.2 L1586.7,544.7 L1587.0,542.2 L1587.3,539.8 L1587.5,537.3 L1587.8,534.8 L1588.1,532.3 L1588.4,529.8 L1588.7,527.3 L1588.9,524.8 L1589.2,522.3 L1589.5,519.9 L1589.8,517.4 L1590.0,514.9 L1590.3,512.4 L1590.6,509.9 L1590.9,507.4 L1591.1,504.9 L1591.4,502.4 L1591.7,500.0 L1592.0,497.5 L1592.2,495.0 L1592.5,492.5 L1592.7,490.0 L1593.0,487.5 L1593.3,485.0 L1593.5,482.5 L1593.8,480.0 L1594.0,477.6 L1594.3,475.1 L1594.5,472.6 L1594.7,470.1 L1595.0,467.6 L1595.2,465.1 L1595.4,462.6 L1595.6,460.1 L1595.9,457.6 L1596.1,455.1 L1596.3,452.6 L1596.5,450.1 L1596.7,447.6 L1596.9,445.1 L1600.3,417.7 L1603.7,403.1 L1605.4,380.0 L1607.1,357.7 L1611.4,335.4 L1614.0,321.7 L1616.6,299.4 L1619.1,258.3 L1623.1,298.6 L1626.0,280.6 L1628.6,265.1 L1631.7,230.0 L1635.4,266.9 L1638.0,270.3 L1640.6,242.9 L1644.0,268.6 L1647.8,237.7 L1650.9,293.4 L1656.0,285.7 L1659.4,272.0 L1662.5,263.4 L1666.3,268.6 L1669.7,250.6 L1673.1,272.0 L1675.7,280.6 L1680.9,270.3 L1685.1,284.9 L1688.9,254.9 L1692.0,268.6 L1694.6,294.3 L1697.1,296.0 L1701.4,337.1 L1704.9,296.0 L1707.8,296.0 L1710.9,326.9 L1715.1,330.3 L1717.7,345.7 L1720.3,368.0 L1723.7,342.3 L1727.1,354.3 L1731.4,350.9 L1736.2,373.1 L1740.0,361.1 L1745.1,371.4 L1748.6,378.3 L1754.6,373.1 L1761.4,375.7 L1764.9,356.3 L1768.3,366.3 L1773.4,372.3 L1780.3,371.4 L1782.9,380.0 L1789.7,395.4 L1793.1,375.7 L1797.4,392.0 L1800.9,392.9 L1805.1,409.1 L1808.6,424.6 L1812.9,414.3 L1815.4,409.1 L1817.1,434.9 L1822.3,423.7 L1824.0,446.9 L1828.3,439.1 L1830.9,451.1 L1837.4,439.1 L1841.1,448.6 L1843.2,480.3 L1848.1,471.8 L1852.0,481.0 L1854.7,481.0 L1858.6,507.2 L1863.3,501.9 L1869.1,512.4 L1873.0,528.1 L1875.6,538.6 L1878.2,559.6 L1881.7,570.0 L1884.8,596.2 L1887.4,627.7 L1887.6,630.2 L1887.8,632.7 L1888.0,635.2 L1888.2,637.7 L1888.4,640.2 L1888.6,642.7 L1888.8,645.2 L1889.0,647.7 L1889.2,650.2 L1889.4,652.7 L1889.6,655.2 L1889.8,657.7 L1890.0,660.2 L1890.2,662.7 L1890.4,665.2 L1890.6,667.7 L1890.8,670.2 L1891.0,672.7 L1891.1,675.2 L1891.3,677.7 L1891.5,680.2 L1891.7,682.7 L1891.9,685.2 L1892.1,687.7 L1892.2,690.2 L1892.4,692.7 L1892.6,695.2 L1892.8,697.7 L1893.0,700.2 L1893.1,702.7 L1893.3,705.2 L1893.5,707.7 L1893.7,710.2 L1893.8,712.7 L1894.0,715.2 L1894.2,717.7 L1894.4,720.2 L1894.5,722.7 L1894.7,725.3 L1894.9,727.8 L1895.1,730.3 L1895.2,732.8 L1895.4,735.3 L1895.6,737.8 L1895.7,740.3 L1895.9,742.8 L1896.1,745.3 L1896.2,747.8 L1896.4,750.3 L1896.6,752.8 L1896.7,755.3 L1896.9,757.8 L1897.1,760.3 L1897.2,762.8 L1897.4,765.3 L1897.6,767.8 L1897.7,770.3 L1897.9,772.8 L1898.0,775.3 L1898.2,777.8 L1898.4,780.3 L1898.5,782.8 L1898.7,785.3 L1898.9,787.8 L1899.0,790.3 L1899.2,792.8 L1899.3,795.3 L1899.5,797.9 L1899.7,800.4 L1899.8,802.9 L1900.0,805.4 L1900.2,807.9 L1900.3,810.4 L1900.5,812.9 L1900.6,815.4 L1900.8,817.9 L1901.0,820.4 L1901.1,822.9 L1901.3,825.4 L1901.4,827.9 L1901.6,830.4 L1901.8,832.9 L1901.9,835.4 L1902.1,837.9 L1902.2,840.4 L1902.4,842.9 L1902.6,845.4 L1902.7,847.9 L1902.9,850.4 L1903.1,852.9 L1903.2,855.4 L1903.4,857.9 L1903.5,860.4 L1903.7,863.0 L1903.9,865.5 L1904.0,868.0 L1904.2,870.5 L1904.4,873.0 L1904.5,875.5 L1904.7,878.0 L1904.9,880.5 L1905.0,883.0 L1905.2,885.5 L1905.4,888.0 L1905.5,890.5 L1905.7,893.0 L1905.9,895.5 L1906.0,898.0 L1906.2,900.5 L1906.4,903.0 L1906.5,905.5 L1906.7,908.0 L1906.9,910.5 L1907.1,913.0 L1907.2,915.5 L1907.4,918.0 L1907.6,920.5 L1907.7,923.0 L1907.9,925.5 L1908.1,928.0 L1908.3,930.5 L1908.5,933.0 L1908.6,935.5 L1908.8,938.0 L1909.0,940.5 L1909.2,943.1 L1909.3,945.6 L1909.5,948.1 L1909.7,950.6 L1909.9,953.1 L1910.1,955.6 L1910.3,958.1 L1910.4,960.6 L1910.6,963.1 L1910.8,965.6 L1911.0,968.1 L1911.2,970.6 L1911.4,973.1 L1911.6,975.6 L1911.8,978.1 L1912.0,980.6 L1912.2,983.1 L1912.4,985.6 L1912.6,988.1 L1912.8,990.6 L1913.0,993.1 L1913.2,995.6 L1913.4,998.1 L1913.6,1000.6 L1913.8,1003.1 L1914.0,1005.6 L1914.2,1008.1 L1914.4,1010.6 L1914.6,1013.1 L1914.8,1015.6 L1915.0,1018.1 L1915.2,1020.6 L1915.4,1023.1 L1915.6,1025.6 L1915.9,1028.1 L1916.1,1030.6 L1916.3,1033.1 L1916.5,1035.6 L1916.7,1038.1 L1917.0,1040.6 L1917.2,1043.1 L1917.4,1045.6 L1917.6,1048.1 L1917.9,1050.6 L1918.1,1053.1 L1918.3,1055.6 L1918.6,1058.1 L1918.8,1060.6 L1919.0,1063.1 L1919.3,1065.6 L1919.5,1068.1 L1919.8,1070.6 L1920.0,1073.1 L1920.2,1075.6 L1920.5,1078.1 L1920.7,1080.6 L1921.0,1083.1 L1921.2,1085.6 L1921.5,1088.1 L1921.8,1090.6 L1922.0,1093.0 L1922.3,1095.5 L1922.5,1098.0 L1922.8,1100.5 L1923.1,1103.0 L1923.3,1105.5 L1923.6,1108.0 L1923.9,1110.5 L1924.2,1113.0 L1924.4,1115.5 L1924.7,1118.0 L1925.0,1120.5 L1925.3,1123.0 L1925.6,1125.5 L1925.9,1128.0 L1926.2,1130.4 L1926.4,1132.9 L1926.7,1135.4 L1927.0,1137.9 L1927.3,1140.4 L1927.6,1142.9 L1928.0,1145.4 L1928.3,1147.9 L1928.6,1150.4 L1928.9,1152.9 L1929.2,1155.3 L1929.5,1157.8 L1929.9,1160.3 L1930.2,1162.8 L1930.5,1165.3 L1930.8,1167.8 L1931.2,1170.3 L1931.5,1172.7 L1931.8,1175.2 L1932.2,1177.7 L1932.5,1180.2 L1932.9,1182.7 L1933.2,1185.2 L1933.6,1187.6 L1933.9,1190.1 L1934.3,1192.6 L1934.7,1195.1 L1935.0,1197.6 L1935.4,1200.0 L1935.8,1202.5 L1936.2,1205.0 L1936.5,1207.5 L1936.9,1210.0 L1937.3,1212.4 L1937.7,1214.9 L1938.1,1217.4 L1938.5,1219.9 L1938.9,1222.3 L1939.3,1224.8 L1939.7,1227.3 L1940.1,1229.8 L1940.5,1232.2 L1941.0,1234.7 L1941.4,1237.2 L1941.8,1239.6 L1942.3,1242.1 L1942.7,1244.6 L1943.2,1247.0 L1943.6,1249.5 L1944.1,1252.0 L1944.6,1254.4 L1945.1,1256.9 L1945.5,1259.3 L1946.0,1261.8 L1946.5,1264.3 L1947.0,1266.7 L1947.6,1269.2 L1948.1,1271.6 L1948.6,1274.1 L1949.2,1276.5 L1949.7,1278.9 L1950.3,1281.4 L1950.9,1283.8 L1951.4,1286.3 L1952.0,1288.7 L1952.6,1291.1 L1953.2,1293.6 L1953.9,1296.0 L1954.5,1298.4 L1955.1,1300.9 L1955.8,1303.3 L1956.4,1305.7 L1957.1,1308.1 L1957.8,1310.5 L1958.5,1313.0 L1959.2,1315.4 L1960.0,1317.8 L1960.7,1320.2 L1961.5,1322.5 L1962.2,1324.9 L1963.0,1327.3 L1963.8,1329.7 L1964.7,1332.0 L1965.5,1334.4 L1966.4,1336.8 L1967.2,1339.1 L1968.1,1341.4 L1969.0,1343.8 L1970.0,1346.1 L1970.9,1348.4 L1971.9,1350.7 L1972.9,1353.0 L1973.9,1355.3 L1974.9,1357.6 L1976.0,1359.9 L1977.0,1362.1 L1978.1,1364.4 L1979.2,1366.6 L1980.4,1368.8 L1981.5,1371.1 L1982.7,1373.3 L1983.9,1375.5 L1985.1,1377.7 L1986.4,1379.8 L1987.7,1382.0 L1989.0,1384.2 L1990.3,1386.3 L1991.6,1388.4 L1993.0,1390.5 L1994.3,1392.6 L1995.7,1394.7 L1997.2,1396.8 L1998.6,1398.9 L2000.1,1400.9 L2001.5,1403.0 L2003.0,1405.0 L2004.6,1407.0 L2006.1,1409.0 L2007.7,1410.9 L2009.2,1412.9 L2010.8,1414.8 L2012.5,1416.8 L2014.1,1418.7 L2015.8,1420.6 L2017.5,1422.5 L2019.2,1424.3 L2020.9,1426.2 L2022.6,1428.0 L2024.4,1429.8 L2026.2,1431.6 L2027.9,1433.3 L2029.8,1435.1 L2031.6,1436.8 L2033.4,1438.5 L2035.3,1440.1 L2037.2,1441.8 L2039.1,1443.4 L2041.0,1445.0 L2043.0,1446.6 L2044.9,1448.2 L2046.9,1449.7 L2048.9,1451.2 L2050.9,1452.7 L2053.0,1454.2 L2055.0,1455.6 L2057.1,1457.0 L2059.2,1458.4 L2061.3,1459.8 L2063.4,1461.1 L2065.5,1462.4 L2067.7,1463.7 L2069.8,1465.0 L2072.0,1466.2 L2074.2,1467.4 L2076.4,1468.6 L2078.6,1469.7 L2080.9,1470.8 L2083.1,1471.9 L2085.4,1473.0 L2087.7,1474.0 L2089.9,1475.0 L2092.3,1476.0 L2094.6,1477.0 L2096.9,1477.9 L2099.2,1478.9 L2101.6,1479.7 L2103.9,1480.6 L2106.3,1481.5 L2108.7,1482.3 L2111.1,1483.1 L2113.4,1483.8 L2115.8,1484.6 L2118.3,1485.3 L2120.7,1486.0 L2123.1,1486.7 L2125.5,1487.4 L2128.0,1488.0 L2130.4,1488.6 L2132.8,1489.2 L2135.3,1489.8 L2137.7,1490.3 L2140.2,1490.8 L2142.7,1491.4 L2145.1,1491.8 L2147.6,1492.3 L2150.1,1492.7 L2152.6,1493.2 L2155.0,1493.6 L2157.5,1493.9 L2160.0,1494.3 L2162.5,1494.6 L2165.0,1495.0 L2167.5,1495.3 L2169.9,1495.6 L2172.4,1495.9 L2174.9,1496.2 L2177.4,1496.4 L2179.9,1496.7 L2182.4,1497.0 L2184.9,1497.2 L2187.4,1497.5 L2189.8,1497.8 L2192.3,1498.0 L2194.8,1498.3 L2197.3,1498.6 L2199.8,1498.8 L2202.3,1499.1 L2204.8,1499.4 L2207.3,1499.7 L2209.7,1500.0 L2212.2,1500.3 L2214.7,1500.7 L2217.2,1501.0 L2219.7,1501.3 L2222.2,1501.6 L2224.7,1501.9 L2227.2,1502.2 L2229.6,1502.5 L2232.1,1502.8 L2234.6,1503.1 L2237.1,1503.4 L2239.6,1503.7 L2242.1,1504.0 L2244.6,1504.3 L2247.1,1504.5 L2249.6,1504.8 L2252.1,1505.0 L2254.6,1505.3 L2257.1,1505.5 L2259.6,1505.7 L2262.1,1505.8 L2264.6,1506.0" stroke="#0000ff"/>
<path d="M336.0,1285.7 L336.5,1288.1 L336.9,1290.6 L337.4,1293.1 L337.8,1295.5 L338.2,1298.0 L338.7,1300.5 L339.1,1303.0 L339.5,1305.5 L340.0,1308.1 L340.4,1310.6 L340.9,1313.1 L341.4,1315.6 L341.9,1318.1 L342.5,1320.6 L343.1,1323.1 L343.7,1325.5 L344.3,1328.0 L345.0,1330.4 L345.7,1332.9 L346.5,1335.3 L347.3,1337.7 L348.1,1340.0 L349.1,1342.4 L350.0,1344.7 L351.0,1347.0 L352.1,1349.2 L353.2,1351.5 L354.4,1353.7 L355.6,1355.9 L356.8,1358.1 L358.1,1360.2 L359.4,1362.4 L360.8,1364.5 L362.2,1366.6 L363.6,1368.7 L365.0,1370.8 L366.5,1372.9 L368.0,1375.0 L369.5,1377.0 L371.1,1379.0 L372.7,1381.0 L374.3,1383.0 L376.0,1384.9 L377.7,1386.8 L379.4,1388.7 L381.2,1390.5 L383.0,1392.2 L384.9,1393.9 L386.8,1395.5 L388.8,1397.1 L390.8,1398.6 L392.8,1400.0 L395.0,1401.4 L397.1,1402.7 L399.3,1403.9 L401.6,1405.0 L403.8,1406.1 L406.2,1407.1 L408.5,1408.0 L410.9,1408.8 L413.3,1409.6 L415.7,1410.2 L418.2,1410.8 L420.7,1411.3 L423.2,1411.8 L425.7,1412.1 L428.2,1412.4 L430.8,1412.6 L433.3,1412.7 L435.9,1412.7 L438.4,1412.6 L440.9,1412.4 L443.4,1412.1 L445.9,1411.7 L448.4,1411.3 L450.9,1410.7 L453.3,1410.0 L455.7,1409.2 L458.0,1408.3 L460.4,1407.3 L462.6,1406.2 L464.8,1405.0 L467.0,1403.6 L469.0,1402.2 L471.0,1400.6 L472.9,1399.0 L474.6,1397.2 L476.3,1395.3 L477.8,1393.3 L479.3,1391.2 L480.7,1389.1 L482.0,1387.0 L483.3,1384.8 L484.5,1382.6 L485.7,1380.4 L486.9,1378.1 L488.1,1375.8 L489.2,1373.6 L490.3,1371.3 L491.4,1369.0 L492.5,1366.7 L493.7,1364.4 L494.8,1362.2 L495.9,1359.9 L497.0,1357.6 L498.2,1355.3 L499.4,1353.0 L500.6,1350.8 L501.9,1348.6 L503.3,1346.6 L504.8,1344.6 L506.4,1342.8 L508.2,1341.1 L510.2,1339.6 L512.3,1338.3 L514.5,1339.7 L516.3,1341.5 L517.8,1343.5 L519.1,1345.6 L520.2,1347.9 L521.3,1350.2 L522.3,1352.5 L523.4,1354.8 L524.5,1357.1 L525.5,1359.4 L526.6,1361.7 L527.6,1364.0 L528.6,1366.2 L529.7,1368.5 L530.7,1370.9 L531.8,1373.2 L532.8,1375.5 L533.9,1377.8 L535.1,1380.0 L536.3,1382.2 L537.7,1384.3 L539.1,1386.4 L540.7,1388.3 L542.4,1390.1 L544.3,1391.8 L546.4,1393.4 L548.7,1394.8 L551.1,1395.9 L553.6,1396.8 L556.1,1397.4 L558.6,1397.6 L560.9,1397.4 L563.1,1396.6 L565.1,1395.6 L567.0,1394.1 L568.8,1392.4 L570.5,1390.5 L572.1,1388.5 L573.7,1386.4 L575.2,1384.3 L576.8,1382.1 L578.2,1380.0 L579.7,1377.9 L581.1,1375.7 L582.4,1373.6 L583.8,1371.4 L585.1,1369.2 L586.4,1367.1 L587.6,1364.9 L588.9,1362.7 L590.1,1360.5 L591.3,1358.3 L592.5,1356.1 L593.6,1353.8 L594.7,1351.6 L595.8,1349.4 L596.9,1347.1 L598.0,1344.8 L599.1,1342.6 L600.1,1340.3 L601.1,1338.0 L602.1,1335.7 L603.1,1333.3 L604.1,1331.0 L605.1,1328.7 L606.0,1326.3 L606.9,1324.0 L607.9,1321.6 L608.7,1319.3 L609.6,1316.9 L610.5,1314.5 L611.3,1312.1 L612.2,1309.7 L613.0,1307.3 L613.8,1304.9 L614.6,1302.5 L615.4,1300.1 L616.1,1297.7 L616.9,1295.3 L617.6,1292.9 L618.3,1290.5 L619.0,1288.0 L619.7,1285.6 L620.4,1283.2 L621.1,1280.7 L621.8,1278.3 L622.4,1275.9 L623.1,1273.4 L623.7,1271.0 L624.4,1268.5 L625.0,1266.1 L625.6,1263.7 L626.2,1261.2 L626.9,1258.8 L627.5,1256.3 L628.1,1253.9 L628.8,1251.4 L629.4,1249.0 L630.0,1246.6 L630.7,1244.1 L631.3,1241.7 L631.9,1239.2 L632.6,1236.8 L633.3,1234.4 L634.0,1231.9 L634.6,1229.5 L635.3,1227.1 L636.0,1224.7 L636.8,1222.3 L637.5,1219.8 L638.3,1217.4 L639.0,1215.0 L639.8,1212.6 L640.6,1210.3 L641.5,1207.9 L642.3,1205.5 L643.2,1203.1 L644.1,1200.7 L645.0,1198.4 L645.9,1196.0 L646.9,1193.7 L647.9,1191.3 L648.9,1189.0 L650.0,1186.7 L651.1,1184.4 L652.4,1182.3 L653.8,1180.2 L655.3,1178.3 L657.1,1176.6 L658.9,1178.3 L660.5,1180.2 L661.8,1182.3 L662.8,1184.5 L663.8,1186.9 L664.6,1189.2 L665.4,1191.6 L666.1,1194.0 L666.8,1196.4 L667.5,1198.8 L668.2,1201.2 L668.9,1203.7 L669.5,1206.1 L670.1,1208.5 L670.7,1210.9 L671.3,1213.4 L671.8,1215.8 L672.4,1218.3 L672.9,1220.7 L673.4,1223.2 L674.0,1225.6 L674.5,1228.1 L674.9,1230.5 L675.4,1233.0 L675.9,1235.5 L676.4,1237.9 L676.8,1240.4 L677.3,1242.8 L677.8,1245.3 L678.2,1247.8 L678.7,1250.2 L679.1,1252.7 L679.6,1255.2 L680.1,1257.6 L680.5,1260.1 L681.0,1262.5 L681.5,1265.0 L682.0,1267.5 L682.4,1269.9 L682.9,1272.4 L683.4,1274.8 L683.9,1277.3 L684.4,1279.8 L684.8,1282.2 L685.3,1284.7 L685.8,1287.1 L686.3,1289.6 L686.8,1292.0 L687.3,1294.5 L687.8,1297.0 L688.3,1299.4 L688.8,1301.9 L689.3,1304.3 L689.8,1306.8 L690.3,1309.2 L690.8,1311.7 L691.3,1314.1 L691.8,1316.6 L692.3,1319.0 L692.8,1321.5 L693.4,1323.9 L693.9,1326.4 L694.4,1328.8 L694.9,1331.3 L695.4,1333.7 L696.0,1336.2 L696.5,1338.6 L697.0,1341.1 L697.5,1343.5 L698.1,1346.0 L698.6,1348.4 L699.1,1350.9 L699.7,1353.3 L700.3,1355.8 L700.8,1358.2 L701.4,1360.6 L702.0,1363.1 L702.6,1365.5 L703.2,1367.9 L703.9,1370.3 L704.5,1372.8 L705.2,1375.2 L705.9,1377.6 L706.6,1380.0 L707.4,1382.4 L708.1,1384.8 L708.9,1387.1 L709.8,1389.5 L710.6,1391.9 L711.5,1394.2 L712.5,1396.6 L713.4,1398.9 L714.4,1401.2 L715.5,1403.5 L716.6,1405.7 L717.8,1408.0 L719.0,1410.1 L720.3,1412.3 L721.6,1414.4 L723.0,1416.4 L724.5,1418.4 L726.1,1420.3 L727.7,1422.1 L729.5,1423.8 L731.3,1425.5 L733.2,1427.1 L735.2,1428.7 L737.2,1430.1 L739.3,1431.5 L741.4,1432.9 L743.6,1434.1 L745.9,1435.3 L748.2,1436.4 L750.5,1437.5 L752.8,1438.5 L755.1,1439.5 L757.5,1440.4 L759.8,1441.4 L762.2,1442.3 L764.4,1443.3 L766.7,1444.3 L768.9,1445.4 L771.0,1446.7 L773.0,1448.0 L775.0,1449.5 L776.9,1451.0 L778.8,1452.6 L780.6,1454.3 L782.4,1456.0 L784.1,1457.8 L785.9,1459.7 L787.6,1461.5 L789.3,1463.4 L791.0,1465.3 L792.7,1467.2 L794.5,1469.1 L796.2,1470.9 L798.0,1472.8 L799.8,1474.6 L801.6,1476.3 L803.5,1478.0 L805.4,1479.7 L807.3,1481.3 L809.3,1482.8 L811.3,1484.3 L813.3,1485.7 L815.4,1487.0 L817.6,1488.2 L819.7,1489.3 L822.0,1490.3 L824.3,1491.3 L826.6,1492.1 L829.0,1492.8 L831.4,1493.5 L833.8,1494.1 L836.3,1494.7 L838.7,1495.2 L841.2,1495.6 L843.7,1496.0 L846.2,1496.4 L848.7,1496.8 L851.2,1497.1 L853.7,1497.4 L856.2,1497.7 L858.7,1498.0 L861.2,1498.3 L863.7,1498.5 L866.2,1498.8 L868.7,1499.0 L871.1,1499.2 L873.6,1499.4 L876.1,1499.6 L878.6,1499.8 L881.1,1500.0 L883.6,1500.2 L886.1,1500.3 L888.6,1500.5 L891.1,1500.6 L893.6,1500.7 L896.1,1500.8 L898.6,1500.9 L901.1,1501.0 L903.6,1501.1 L906.1,1501.1 L908.6,1501.1 L911.1,1501.1 L913.7,1501.1 L916.2,1501.1 L918.7,1501.0 L921.2,1501.0 L923.7,1500.9 L926.2,1500.8 L928.7,1500.6 L931.2,1500.5 L933.7,1500.3 L936.2,1500.1 L938.7,1499.9 L941.2,1499.7 L943.7,1499.5 L946.2,1499.3 L948.7,1499.1 L951.2,1498.9 L953.7,1498.7 L956.3,1498.5 L958.8,1498.3 L961.3,1498.2 L963.7,1498.1 L966.2,1498.0 L968.7,1497.9 L971.2,1497.8 L973.7,1497.8 L976.2,1497.8 L978.7,1497.9 L981.2,1498.0 L983.7,1498.1 L986.2,1498.3 L988.7,1498.5 L991.2,1498.8 L993.7,1499.1 L996.2,1499.4 L998.7,1499.7 L1001.2,1500.0 L1003.7,1500.3 L1006.2,1500.6 L1008.7,1500.9 L1011.1,1501.2 L1013.6,1501.4 L1016.1,1501.7 L1018.6,1501.9 L1021.1,1502.1 L1023.6,1502.3 L1026.1,1502.5 L1028.6,1502.6 L1031.1,1502.8 L1033.6,1502.9 L1036.1,1503.0 L1038.6,1503.1 L1041.1,1503.2 L1043.6,1503.3 L1046.1,1503.4 L1048.6,1503.5 L1051.1,1503.5 L1053.6,1503.5 L1056.1,1503.6 L1058.6,1503.6 L1061.1,1503.6 L1063.6,1503.6 L1066.1,1503.6 L1068.6,1503.5 L1071.1,1503.5 L1073.6,1503.4 L1076.1,1503.4 L1078.6,1503.3 L1081.1,1503.2 L1083.6,1503.1 L1086.1,1503.0 L1088.6,1502.9 L1091.1,1502.8 L1093.6,1502.7 L1096.1,1502.5 L1098.6,1502.4 L1101.1,1502.2 L1103.6,1502.1 L1106.1,1501.9 L1108.6,1501.7 L1111.1,1501.6 L1113.6,1501.4 L1116.1,1501.2 L1118.6,1501.0 L1121.1,1500.8 L1123.6,1500.6 L1126.1,1500.3 L1128.6,1500.1 L1131.1,1499.9 L1133.6,1499.7 L1136.1,1499.4 L1138.6,1499.2 L1141.1,1498.9 L1143.6,1498.7 L1146.1,1498.4 L1148.6,1498.1 L1151.1,1497.9 L1153.6,1497.6 L1156.1,1497.3 L1158.6,1497.1 L1161.1,1496.8 L1163.6,1496.5 L1166.1,1496.2 L1168.6,1495.9 L1171.0,1495.6 L1173.5,1495.3 L1176.0,1495.1 L1178.5,1494.8 L1181.0,1494.5 L1183.5,1494.2 L1186.0,1493.9 L1188.5,1493.6 L1191.0,1493.3 L1193.5,1493.0 L1195.9,1492.7 L1198.4,1492.4 L1200.9,1492.1 L1203.4,1491.8 L1205.9,1491.5 L1208.4,1491.2 L1210.9,1490.9 L1213.4,1490.6 L1215.8,1490.3 L1218.3,1490.0 L1220.8,1489.8 L1223.3,1489.5 L1225.8,1489.2 L1228.3,1488.9 L1230.8,1488.6 L1233.3,1488.4 L1235.8,1488.1 L1238.2,1487.8 L1240.7,1487.6 L1243.2,1487.3 L1245.7,1487.1 L1248.2,1486.8 L1250.7,1486.6 L1253.2,1486.4 L1255.7,1486.1 L1258.2,1485.9 L1260.7,1485.7 L1263.2,1485.5 L1265.7,1485.3 L1268.2,1485.1 L1270.6,1484.9 L1273.1,1484.7 L1275.6,1484.5 L1278.1,1484.3 L1280.6,1484.1 L1283.1,1483.9 L1285.6,1483.8 L1288.1,1483.6 L1290.6,1483.4 L1293.1,1483.3 L1295.6,1483.1 L1298.1,1482.9 L1300.6,1482.7 L1303.1,1482.6 L1305.6,1482.4 L1308.1,1482.2 L1310.6,1482.0 L1313.1,1481.9 L1315.6,1481.7 L1318.1,1481.5 L1320.6,1481.3 L1323.1,1481.1 L1325.6,1480.9 L1328.1,1480.7 L1330.6,1480.5 L1333.1,1480.3 L1335.6,1480.1 L1338.1,1479.9 L1340.6,1479.7 L1343.1,1479.4 L1345.6,1479.2 L1348.0,1479.0 L1350.5,1478.7 L1353.0,1478.4 L1355.5,1478.2 L1358.0,1477.9 L1360.5,1477.6 L1363.0,1477.3 L1365.5,1477.0 L1368.0,1476.7 L1370.5,1476.3 L1372.9,1476.0 L1375.4,1475.6 L1377.9,1475.2 L1380.4,1474.9 L1382.9,1474.5 L1385.4,1474.1 L1387.8,1473.6 L1390.3,1473.2 L1392.8,1472.8 L1395.3,1472.3 L1397.7,1471.8 L1400.2,1471.3 L1402.7,1470.8 L1405.1,1470.2 L1407.6,1469.6 L1410.0,1469.0 L1412.4,1468.4 L1414.8,1467.8 L1417.3,1467.1 L1419.7,1466.4 L1422.0,1465.6 L1424.4,1464.9 L1426.8,1464.1 L1429.1,1463.2 L1431.5,1462.4 L1433.8,1461.4 L1436.1,1460.5 L1438.4,1459.5 L1440.6,1458.5 L1442.9,1457.4 L1445.1,1456.3 L1447.3,1455.2 L1449.5,1454.0 L1451.7,1452.8 L1453.8,1451.6 L1456.0,1450.3 L1458.1,1449.0 L1460.3,1447.7 L1462.4,1446.4 L1464.6,1445.1 L1466.7,1443.8 L1468.8,1442.4 L1470.9,1441.1 L1473.1,1439.7 L1475.2,1438.4 L1477.3,1437.0 L1479.4,1435.6 L1481.5,1434.2 L1483.6,1432.8 L1485.7,1431.4 L1487.8,1430.0 L1489.9,1428.6 L1492.0,1427.2 L1494.1,1425.7 L1496.1,1424.3 L1498.2,1422.8 L1500.2,1421.4 L1502.3,1419.9 L1504.3,1418.4 L1506.3,1416.9 L1508.3,1415.3 L1510.3,1413.8 L1512.3,1412.3 L1514.3,1410.7 L1516.2,1409.1 L1518.2,1407.5 L1520.1,1405.9 L1522.0,1404.3 L1523.9,1402.7 L1525.8,1401.0 L1527.7,1399.4 L1529.5,1397.7 L1531.4,1396.0 L1533.2,1394.3 L1535.0,1392.5 L1536.8,1390.8 L1538.5,1389.0 L1540.3,1387.2 L1542.0,1385.4 L1543.7,1383.6 L1545.4,1381.8 L1547.1,1379.9 L1548.7,1378.1 L1550.4,1376.2 L1552.0,1374.3 L1553.6,1372.4 L1555.2,1370.5 L1556.7,1368.5 L1558.3,1366.6 L1559.8,1364.6 L1561.3,1362.6 L1562.8,1360.6 L1564.3,1358.6 L1565.8,1356.6 L1567.3,1354.6 L1568.7,1352.6 L1570.1,1350.5 L1571.5,1348.4 L1572.9,1346.4 L1574.3,1344.3 L1575.7,1342.2 L1577.0,1340.1 L1578.4,1338.0 L1579.7,1335.8 L1581.0,1333.7 L1582.3,1331.6 L1583.6,1329.4 L1584.9,1327.2 L1586.1,1325.1 L1587.4,1322.9 L1588.6,1320.7 L1589.9,1318.5 L1591.1,1316.3 L1592.3,1314.1 L1593.5,1311.9 L1594.6,1309.7 L1595.8,1307.4 L1596.9,1305.2 L1598.1,1302.9 L1599.2,1300.7 L1600.3,1298.4 L1601.4,1296.2 L1602.5,1293.9 L1603.6,1291.6 L1604.7,1289.4 L1605.8,1287.1 L1606.8,1284.8 L1607.9,1282.5 L1608.9,1280.2 L1609.9,1277.9 L1611.0,1275.6 L1612.0,1273.3 L1613.0,1271.0 L1614.0,1268.7 L1614.9,1266.4 L1615.9,1264.1 L1616.9,1261.8 L1617.9,1259.5 L1618.8,1257.2 L1619.8,1254.9 L1620.8,1252.6 L1621.7,1250.3 L1622.7,1248.0 L1623.7,1245.7 L1624.6,1243.4 L1625.6,1241.1 L1626.6,1238.8 L1627.6,1236.5 L1628.6,1234.3 L1629.6,1232.0 L1630.7,1229.7 L1631.7,1227.5 L1632.7,1225.2 L1633.8,1222.9 L1634.9,1220.7 L1636.0,1218.5 L1637.1,1216.2 L1638.2,1214.0 L1639.4,1211.8 L1640.6,1209.6 L1641.8,1207.4 L1643.0,1205.2 L1644.3,1203.0 L1645.6,1200.9 L1646.9,1198.7 L1648.3,1196.7 L1649.7,1194.6 L1651.2,1192.6 L1652.8,1190.6 L1654.4,1188.6 L1656.1,1186.7 L1657.8,1184.9 L1659.7,1183.1 L1661.6,1181.4 L1663.6,1179.8 L1665.7,1178.3 L1667.8,1177.0 L1670.0,1175.9 L1672.3,1175.0 L1674.6,1174.4 L1677.0,1174.0 L1679.4,1173.9 L1681.9,1174.0 L1684.4,1174.3 L1686.9,1174.8 L1689.4,1175.3 L1691.9,1175.9 L1694.4,1176.4 L1696.8,1176.8 L1699.3,1177.0 L1701.8,1177.0 L1704.3,1176.9 L1706.8,1176.6 L1709.2,1176.1 L1711.6,1175.6 L1714.0,1174.9 L1716.3,1174.0 L1718.6,1173.1 L1720.9,1172.0 L1723.0,1170.8 L1725.1,1169.5 L1727.2,1168.1 L1729.2,1166.6 L1731.0,1165.0 L1732.9,1163.3 L1734.6,1161.5 L1736.2,1159.7 L1737.8,1157.7 L1739.3,1155.8 L1740.8,1153.7 L1742.2,1151.6 L1743.6,1149.5 L1744.9,1147.3 L1746.1,1145.1 L1747.4,1142.9 L1748.5,1140.6 L1749.7,1138.3 L1750.8,1136.1 L1751.9,1133.8 L1753.0,1131.5 L1754.1,1129.2 L1755.2,1126.9 L1756.2,1124.6 L1757.2,1122.3 L1758.3,1120.0 L1759.3,1117.7 L1760.2,1115.5 L1761.2,1113.2 L1762.2,1110.9 L1763.1,1108.6 L1764.0,1106.3 L1765.0,1104.0 L1765.9,1101.6 L1766.8,1099.3 L1767.7,1097.0 L1768.5,1094.7 L1769.4,1092.4 L1770.3,1090.0 L1771.1,1087.7 L1772.0,1085.3 L1772.8,1083.0 L1773.6,1080.6 L1774.5,1078.3 L1775.3,1075.9 L1776.1,1073.5 L1776.9,1071.1 L1777.7,1068.8 L1778.5,1066.4 L1779.3,1064.0 L1780.1,1061.6 L1780.9,1059.2 L1781.7,1056.8 L1782.5,1054.4 L1783.3,1052.0 L1784.1,1049.6 L1784.8,1047.2 L1785.6,1044.8 L1786.4,1042.5 L1787.2,1040.1 L1788.0,1037.7 L1788.8,1035.3 L1789.6,1033.0 L1790.4,1030.6 L1791.2,1028.3 L1792.0,1025.9 L1792.9,1023.6 L1793.7,1021.2 L1794.6,1018.9 L1795.5,1016.6 L1796.5,1014.3 L1797.5,1012.0 L1798.5,1009.7 L1799.6,1007.4 L1800.8,1005.2 L1804.1,998.3 L1807.1,991.5 L1810.2,984.7 L1813.3,979.2 L1817.4,971.0 L1821.8,964.2 L1825.9,958.7 L1828.3,957.3 L1831.1,955.6 L1834.1,954.9 L1836.5,956.3 L1838.6,958.7 L1842.0,963.5 L1844.0,965.5 L1848.1,967.2 L1850.2,977.8 L1854.1,991.5 L1854.8,993.9 L1855.5,996.3 L1856.1,998.8 L1856.8,1001.2 L1857.4,1003.7 L1858.0,1006.1 L1858.6,1008.5 L1859.1,1011.0 L1859.7,1013.4 L1860.2,1015.9 L1860.7,1018.3 L1861.2,1020.8 L1861.6,1023.2 L1862.1,1025.7 L1862.6,1028.1 L1863.0,1030.6 L1863.4,1033.1 L1863.8,1035.5 L1864.3,1038.0 L1864.7,1040.5 L1865.1,1042.9 L1865.5,1045.4 L1865.9,1047.9 L1866.3,1050.3 L1866.7,1052.8 L1867.1,1055.3 L1867.5,1057.8 L1867.9,1060.2 L1868.2,1062.7 L1868.6,1065.2 L1869.0,1067.7 L1869.4,1070.1 L1869.8,1072.6 L1870.2,1075.1 L1870.6,1077.6 L1871.0,1080.0 L1871.4,1082.5 L1871.8,1085.0 L1872.2,1087.5 L1872.6,1090.0 L1872.9,1092.5 L1873.3,1094.9 L1873.7,1097.4 L1874.1,1099.9 L1874.5,1102.4 L1874.9,1104.9 L1875.3,1107.4 L1875.7,1109.8 L1876.0,1112.3 L1876.4,1114.8 L1876.8,1117.3 L1877.2,1119.8 L1877.6,1122.3 L1878.0,1124.8 L1878.4,1127.2 L1878.7,1129.7 L1879.1,1132.2 L1879.5,1134.7 L1879.9,1137.2 L1880.3,1139.7 L1880.7,1142.1 L1881.0,1144.6 L1881.4,1147.1 L1881.8,1149.6 L1882.2,1152.1 L1882.6,1154.6 L1882.9,1157.1 L1883.3,1159.5 L1883.7,1162.0 L1884.1,1164.5 L1884.5,1167.0 L1884.8,1169.5 L1885.2,1171.9 L1885.6,1174.4 L1886.0,1176.9 L1886.4,1179.4 L1886.7,1181.9 L1887.1,1184.3 L1887.5,1186.8 L1887.9,1189.3 L1888.2,1191.8 L1888.6,1194.3 L1889.0,1196.7 L1889.4,1199.2 L1889.8,1201.7 L1890.2,1204.2 L1890.5,1206.6 L1890.9,1209.1 L1891.3,1211.6 L1891.7,1214.0 L1892.1,1216.5 L1892.5,1219.0 L1892.9,1221.5 L1893.3,1223.9 L1893.6,1226.4 L1894.0,1228.9 L1894.4,1231.3 L1894.8,1233.8 L1895.2,1236.3 L1895.6,1238.8 L1896.0,1241.2 L1896.5,1243.7 L1896.9,1246.2 L1897.3,1248.6 L1897.7,1251.1 L1898.1,1253.6 L1898.5,1256.0 L1898.9,1258.5 L1899.4,1260.9 L1899.8,1263.4 L1900.2,1265.9 L1900.7,1268.3 L1901.1,1270.8 L1901.5,1273.3 L1902.0,1275.7 L1902.4,1278.2 L1902.9,1280.6 L1903.3,1283.1 L1903.8,1285.6 L1904.2,1288.0 L1904.7,1290.5 L1905.2,1292.9 L1905.6,1295.4 L1906.1,1297.9 L1906.6,1300.3 L1907.1,1302.8 L1907.6,1305.2 L1908.1,1307.7 L1908.6,1310.1 L1909.1,1312.6 L1909.6,1315.0 L1910.1,1317.5 L1910.6,1320.0 L1911.1,1322.4 L1911.6,1324.9 L1912.2,1327.3 L1912.7,1329.8 L1913.2,1332.2 L1913.8,1334.7 L1914.3,1337.1 L1914.9,1339.6 L1915.4,1342.0 L1916.0,1344.5 L1916.6,1346.9 L1917.2,1349.4 L1917.7,1351.8 L1918.3,1354.3 L1918.9,1356.7 L1919.5,1359.2 L1920.1,1361.6 L1920.7,1364.0 L1921.4,1366.5 L1922.0,1368.9 L1922.6,1371.4 L1923.3,1373.8 L1923.9,1376.3 L1924.6,1378.7 L1925.2,1381.2 L1925.9,1383.6 L1926.6,1386.0 L1927.2,1388.5 L1927.9,1390.9 L1928.6,1393.4 L1929.3,1395.8 L1930.1,1398.2 L1930.8,1400.6 L1931.6,1403.0 L1932.4,1405.4 L1933.1,1407.8 L1934.0,1410.2 L1934.8,1412.6 L1935.7,1415.0 L1936.5,1417.3 L1937.5,1419.6 L1938.4,1422.0 L1939.4,1424.3 L1940.3,1426.6 L1941.4,1428.8 L1942.4,1431.1 L1943.5,1433.3 L1944.6,1435.5 L1945.8,1437.7 L1947.0,1439.9 L1948.2,1442.1 L1949.5,1444.2 L1950.8,1446.3 L1952.2,1448.4 L1953.6,1450.4 L1955.0,1452.4 L1956.5,1454.4 L1958.0,1456.4 L1959.6,1458.3 L1961.3,1460.2 L1962.9,1462.1 L1964.7,1463.9 L1966.4,1465.7 L1968.3,1467.4 L1970.1,1469.1 L1972.0,1470.8 L1974.0,1472.4 L1975.9,1473.9 L1978.0,1475.4 L1980.0,1476.8 L1982.1,1478.2 L1984.3,1479.5 L1986.4,1480.7 L1988.6,1481.9 L1990.9,1483.0 L1993.1,1484.1 L1995.4,1485.1 L1997.7,1486.0 L2000.1,1486.9 L2002.4,1487.8 L2004.8,1488.6 L2007.2,1489.4 L2009.6,1490.1 L2012.0,1490.8 L2014.5,1491.5 L2016.9,1492.1 L2019.3,1492.7 L2021.8,1493.3 L2024.2,1493.9 L2026.7,1494.4 L2029.1,1494.9 L2031.6,1495.3 L2034.0,1495.8 L2036.5,1496.2 L2039.0,1496.6 L2041.5,1497.0 L2043.9,1497.3 L2046.4,1497.7 L2048.9,1498.0 L2051.4,1498.3 L2053.9,1498.5 L2056.4,1498.8 L2058.9,1499.0 L2061.4,1499.2 L2063.9,1499.4 L2066.4,1499.6 L2068.9,1499.8 L2071.4,1500.0 L2073.9,1500.1 L2076.4,1500.2 L2078.9,1500.3 L2081.4,1500.4 L2083.9,1500.5 L2086.5,1500.6 L2089.0,1500.7 L2091.5,1500.8 L2094.0,1500.8 L2096.5,1500.9 L2099.0,1500.9 L2101.6,1501.0 L2104.1,1501.0 L2106.6,1501.0 L2109.1,1501.1 L2111.6,1501.1 L2114.2,1501.1 L2116.7,1501.1 L2119.2,1501.1 L2121.7,1501.2 L2124.2,1501.2 L2126.8,1501.2 L2129.3,1501.2 L2131.8,1501.2 L2134.3,1501.3 L2136.8,1501.3 L2139.3,1501.3 L2141.8,1501.4 L2144.3,1501.4 L2146.8,1501.4 L2149.4,1501.5 L2151.9,1501.5 L2154.4,1501.6 L2156.9,1501.6 L2159.4,1501.7 L2161.9,1501.7 L2164.4,1501.8 L2166.9,1501.8 L2169.4,1501.9 L2171.9,1502.0 L2174.4,1502.0 L2176.9,1502.1 L2179.4,1502.1 L2181.9,1502.2 L2184.4,1502.2 L2186.9,1502.3 L2189.4,1502.4 L2191.9,1502.4 L2194.4,1502.5 L2196.9,1502.5 L2199.4,1502.6 L2201.9,1502.7 L2204.4,1502.7 L2206.9,1502.8 L2209.4,1502.8 L2211.9,1502.9 L2214.4,1502.9 L2216.9,1503.0 L2219.4,1503.0 L2221.9,1503.1 L2224.4,1503.1 L2226.9,1503.1 L2229.4,1503.2 L2231.9,1503.2 L2234.4,1503.2 L2236.9,1503.3 L2239.4,1503.3 L2241.9,1503.3 L2244.5,1503.3 L2247.0,1503.3 L2249.5,1503.3 L2252.0,1503.3 L2254.5,1503.3 L2257.0,1503.3 L2259.6,1503.3 L2262.1,1503.3 L2264.6,1503.3" stroke="#000000"/>
</g>
<g stroke="#000" stroke-width="7.8" fill="none" stroke-linecap="butt">
<rect x="304.1" y="54.9" width="1960.5" height="1578.3999999999999"/>
<line x1="273" y1="1501.77" x2="304.1" y2="1501.77"/>
<line x1="273" y1="1238.70" x2="304.1" y2="1238.70"/>
<line x1="273" y1="975.63" x2="304.1" y2="975.63"/>
<line x1="273" y1="712.57" x2="304.1" y2="712.57"/>
<line x1="273" y1="449.50" x2="304.1" y2="449.50"/>
<line x1="273" y1="186.43" x2="304.1" y2="186.43"/>
<line x1="289" y1="1633.30" x2="304.1" y2="1633.30"/>
<line x1="289" y1="1370.23" x2="304.1" y2="1370.23"/>
<line x1="289" y1="1107.17" x2="304.1" y2="1107.17"/>
<line x1="289" y1="844.10" x2="304.1" y2="844.10"/>
<line x1="289" y1="581.03" x2="304.1" y2="581.03"/>
<line x1="289" y1="317.97" x2="304.1" y2="317.97"/>
<line x1="289" y1="54.90" x2="304.1" y2="54.90"/>
<line x1="367.34" y1="1633.3" x2="367.34" y2="1664"/>
<line x1="683.55" y1="1633.3" x2="683.55" y2="1664"/>
<line x1="999.76" y1="1633.3" x2="999.76" y2="1664"/>
<line x1="1315.97" y1="1633.3" x2="1315.97" y2="1664"/>
<line x1="1632.18" y1="1633.3" x2="1632.18" y2="1664"/>
<line x1="1948.39" y1="1633.3" x2="1948.39" y2="1664"/>
<line x1="2264.60" y1="1633.3" x2="2264.60" y2="1664"/>
<line x1="525.45" y1="1633.3" x2="525.45" y2="1648.3"/>
<line x1="841.66" y1="1633.3" x2="841.66" y2="1648.3"/>
<line x1="1157.87" y1="1633.3" x2="1157.87" y2="1648.3"/>
<line x1="1474.08" y1="1633.3" x2="1474.08" y2="1648.3"/>
<line x1="1790.29" y1="1633.3" x2="1790.29" y2="1648.3"/>
<line x1="2106.50" y1="1633.3" x2="2106.50" y2="1648.3"/>
</g>
<text class="ser" transform="translate(250.5,1530.3) scale(1,1.026)" text-anchor="end">0</text>
<text class="ser" transform="translate(250.5,1267.2) scale(1,1.026)" text-anchor="end">1</text>
<text class="ser" transform="translate(250.5,1004.1) scale(1,1.026)" text-anchor="end">2</text>
<text class="ser" transform="translate(250.5,741.1) scale(1,1.026)" text-anchor="end">3</text>
<text class="ser" transform="translate(250.5,478.0) scale(1,1.026)" text-anchor="end">4</text>
<text class="ser" transform="translate(250.5,214.9) scale(1,1.026)" text-anchor="end">5</text>
<text class="ser" transform="translate(367.3,1761.2) scale(1,1.026)" text-anchor="middle">200</text>
<text class="ser" transform="translate(683.6,1761.2) scale(1,1.026)" text-anchor="middle">300</text>
<text class="ser" transform="translate(999.8,1761.2) scale(1,1.026)" text-anchor="middle">400</text>
<text class="ser" transform="translate(1316.0,1761.2) scale(1,1.026)" text-anchor="middle">500</text>
<text class="ser" transform="translate(1632.2,1761.2) scale(1,1.026)" text-anchor="middle">600</text>
<text class="ser" transform="translate(1948.4,1761.2) scale(1,1.026)" text-anchor="middle">700</text>
<text class="ser" transform="translate(2264.6,1761.2) scale(1,1.026)" text-anchor="middle">800</text>
<text class="san" font-size="90.3" transform="translate(1286,1916) scale(1,1.023)" text-anchor="middle">Wavelength (nm)</text>
<text class="san" font-size="90" transform="translate(126.5,844.3) rotate(-90) scale(1,1.023)" text-anchor="middle">Absorbance (a.u.)</text>
<rect x="359.5" y="80.5" width="1027.5" height="414.5" fill="#fff" stroke="#000" stroke-width="6"/>
<line x1="368.3" y1="141.2" x2="518.4" y2="141.2" stroke="#ff0000" stroke-width="11.4"/>
<text class="san" font-size="82" transform="translate(539.0,164.1) scale(1,1.023)">Sep-cal500</text>
<line x1="368.3" y1="242.5" x2="518.4" y2="242.5" stroke="#008000" stroke-width="11.4"/>
<text class="san" font-size="82" transform="translate(540.6,265.4) scale(1,1.023)">Mc-80-500</text>
<line x1="368.3" y1="343.9" x2="518.4" y2="343.9" stroke="#0000ff" stroke-width="11.4"/>
<text class="san" font-size="82" transform="translate(540.6,366.7) scale(1,1.023)">Methylene Blue 50ppm</text>
<line x1="368.3" y1="445.2" x2="518.4" y2="445.2" stroke="#000000" stroke-width="11.4"/>
<text class="san" font-size="82" transform="translate(540.6,468.0) scale(1,1.023)">Raw sepiolite</text>
</svg></body></html>
